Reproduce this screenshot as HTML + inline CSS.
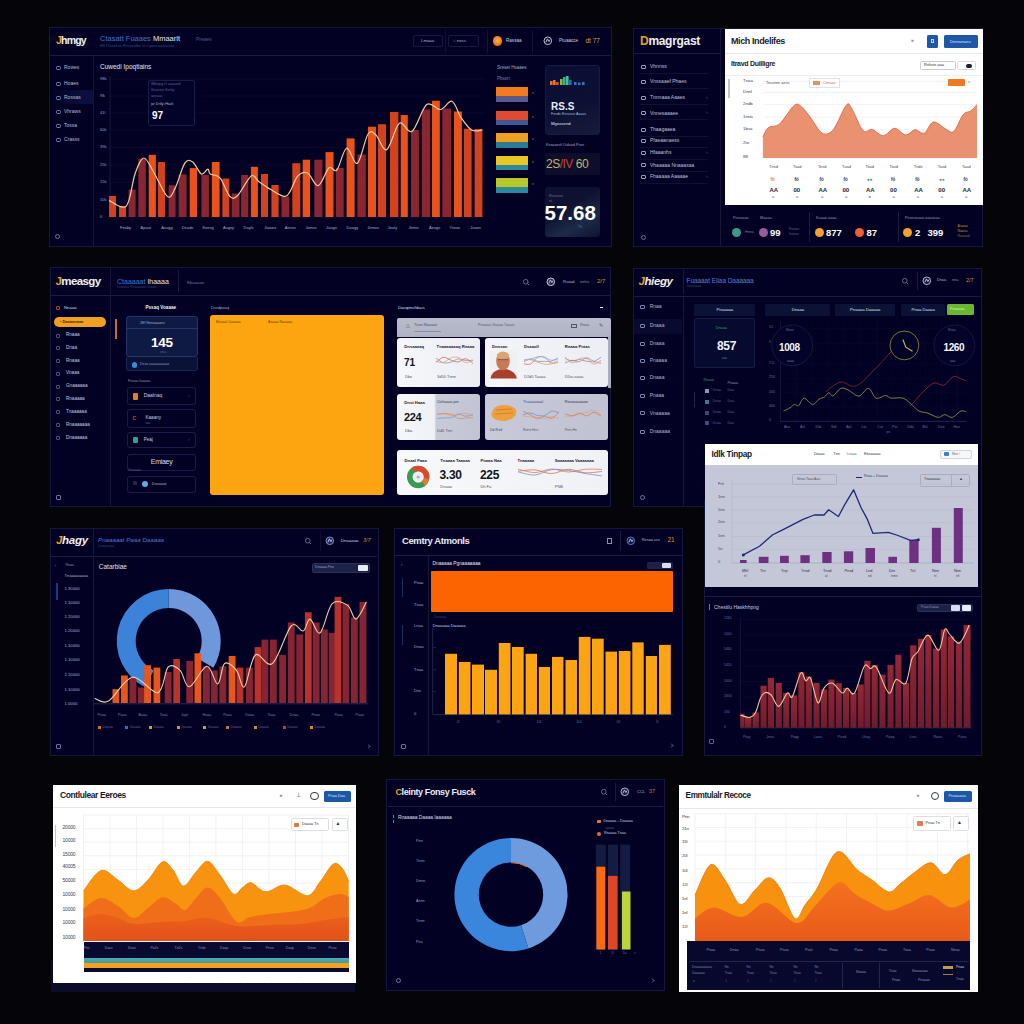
<!DOCTYPE html>
<html><head><meta charset="utf-8"><title>Dashboards</title><style>
*{margin:0;padding:0;box-sizing:border-box;}
html,body{width:1024px;height:1024px;overflow:hidden;background:#040409;}
body{position:relative;font-family:"Liberation Sans",sans-serif;}
body>div,.a{position:absolute;}
.t{position:absolute;white-space:nowrap;line-height:1;}
</style></head>
<body>
<div style="left:49px;top:27px;width:563px;height:220px;background:#020124;border:1px solid #15173e;"></div><div style="left:50px;top:55px;width:561px;height:1px;background:#1a1c40;"></div><div style="left:93px;top:56px;width:1px;height:190px;background:#141634;"></div><div class="t" style="left:56px;top:34.5px;font-size:10.5px;color:#f0f0f5;font-weight:bold;letter-spacing:-0.8px;"><span style="color:#e8a020">J</span>hmgy</div><div class="t" style="left:100px;top:35.3px;font-size:7.5px;color:#fff;font-weight:normal;"><span style="color:#3a78c8">Ctasatt Fuaaes</span> <span style="color:#e6e6ee">Mmaarlt</span></div><div class="t" style="left:100px;top:44px;font-size:4.2px;color:#2a4a80;font-weight:normal;">Rfl Paaetsa  Reraedbe In  Lyaanoaeaane</div><div class="t" style="left:196px;top:37px;font-size:5px;color:#4a5a90;font-weight:normal;">Preaes</div><div style="left:413px;top:35px;width:30px;height:12px;border:1px solid #161a42;border-radius:2px;"></div><div class="t" style="left:421px;top:39.2px;font-size:4.3px;color:#b0b4d0;font-weight:normal;">Lmaaa</div><div style="left:448px;top:35px;width:31px;height:12px;border:1px solid #161a42;border-radius:2px;"></div><div class="t" style="left:453px;top:39.2px;font-size:4.3px;color:#b0b4d0;font-weight:normal;">&#9675;  ness</div><div style="left:492.5px;top:36.2px;width:9.5px;height:9.5px;background:radial-gradient(circle at 50% 45%,#ffb060,#f07818 60%,#e06010);border-radius:50%;"></div><svg class="a" style="left:542.8000000000001px;top:36.0px" width="9.6" height="9.6" viewBox="-4.8 -4.8 9.6 9.6"><circle cx="0" cy="0" r="3.8" fill="#0a0e34" stroke="#d0d4e8" stroke-width="0.9"/><path d="M-1.9,1.52 L-0.38,-1.9 L1.14,0.76 L2.09,-1.14" fill="none" stroke="#e0e4f4" stroke-width="0.8"/></svg><div class="t" style="left:506px;top:39px;font-size:4.6px;color:#c8cce0;font-weight:normal;">Rassaa</div><div class="t" style="left:559px;top:39px;font-size:4.6px;color:#c8cce0;font-weight:normal;">Ptuaacce</div><div class="t" style="left:585.5px;top:37.8px;font-size:6.5px;color:#d8a040;font-weight:normal;">dt 77</div><div style="left:50px;top:90px;width:43px;height:14px;background:linear-gradient(90deg,rgba(10,12,52,0) 0%,#0a0e3a 70%,#0c1040 100%);"></div><div style="left:56px;top:65.8px;width:4.5px;height:4.5px;border:0.8px solid #8088b8;border-radius:1.5px;"></div><div class="t" style="left:64px;top:65.2px;font-size:5px;color:#b4bad8;font-weight:normal;">Rowes</div><div style="left:56px;top:81.8px;width:4.5px;height:4.5px;border:0.8px solid #8088b8;border-radius:1.5px;"></div><div class="t" style="left:64px;top:81.2px;font-size:5px;color:#b4bad8;font-weight:normal;">Hoaes</div><div style="left:56px;top:95.8px;width:4.5px;height:4.5px;border:0.8px solid #8088b8;border-radius:1.5px;"></div><div class="t" style="left:64px;top:95.2px;font-size:5px;color:#b4bad8;font-weight:normal;">Rossas</div><div style="left:56px;top:109.8px;width:4.5px;height:4.5px;border:0.8px solid #8088b8;border-radius:1.5px;"></div><div class="t" style="left:64px;top:109.2px;font-size:5px;color:#b4bad8;font-weight:normal;">Vhraws</div><div style="left:56px;top:123.8px;width:4.5px;height:4.5px;border:0.8px solid #8088b8;border-radius:1.5px;"></div><div class="t" style="left:64px;top:123.2px;font-size:5px;color:#b4bad8;font-weight:normal;">Tossa</div><div style="left:56px;top:137.8px;width:4.5px;height:4.5px;border:0.8px solid #8088b8;border-radius:1.5px;"></div><div class="t" style="left:64px;top:137.2px;font-size:5px;color:#b4bad8;font-weight:normal;">Crasss</div><div style="left:55px;top:234px;width:5px;height:5px;border:1px solid #6a70a0;border-radius:50%;"></div><div class="t" style="left:100px;top:63.5px;font-size:6.5px;color:#e8e8f0;font-weight:normal;">Cuwedi Ipoqtiains</div><div class="t" style="left:100px;top:76.5px;font-size:4px;color:#9aa0c0;font-weight:normal;">98k</div><div class="t" style="left:100px;top:93.5px;font-size:4px;color:#9aa0c0;font-weight:normal;">9lk</div><div class="t" style="left:100px;top:110.5px;font-size:4px;color:#9aa0c0;font-weight:normal;">41l</div><div class="t" style="left:100px;top:127.5px;font-size:4px;color:#9aa0c0;font-weight:normal;">60k</div><div class="t" style="left:100px;top:145.0px;font-size:4px;color:#9aa0c0;font-weight:normal;">39k</div><div class="t" style="left:100px;top:162.5px;font-size:4px;color:#9aa0c0;font-weight:normal;">25k</div><div class="t" style="left:100px;top:180.2px;font-size:4px;color:#9aa0c0;font-weight:normal;">15k</div><div class="t" style="left:100px;top:197.5px;font-size:4px;color:#9aa0c0;font-weight:normal;">10k</div><div class="t" style="left:100px;top:214.5px;font-size:4px;color:#9aa0c0;font-weight:normal;">0</div><svg class="a" style="left:95px;top:70px" width="395" height="150" viewBox="95 70 395 150"><line x1="110" y1="79" x2="484" y2="79" stroke="#0c0d30" stroke-width="0.8"/><line x1="110" y1="96" x2="484" y2="96" stroke="#0c0d30" stroke-width="0.8"/><line x1="110" y1="113" x2="484" y2="113" stroke="#0c0d30" stroke-width="0.8"/><line x1="110" y1="130" x2="484" y2="130" stroke="#0c0d30" stroke-width="0.8"/><line x1="110" y1="147.5" x2="484" y2="147.5" stroke="#0c0d30" stroke-width="0.8"/><line x1="110" y1="165" x2="484" y2="165" stroke="#0c0d30" stroke-width="0.8"/><line x1="110" y1="182.7" x2="484" y2="182.7" stroke="#0c0d30" stroke-width="0.8"/><line x1="110" y1="200" x2="484" y2="200" stroke="#0c0d30" stroke-width="0.8"/><line x1="110" y1="217" x2="484" y2="217" stroke="#0c0d30" stroke-width="0.8"/><line x1="110" y1="76" x2="110" y2="217" stroke="#1c1e48" stroke-width="0.8"/><rect x="109" y="196" width="7" height="21" fill="#d2421e"/><rect x="119" y="206" width="7" height="11" fill="#d2421e"/><rect x="128.6" y="189.6" width="7" height="27.400000000000006" fill="#8a2630"/><rect x="138.4" y="158.75" width="7.4" height="58.25" fill="#8a2630"/><rect x="148.7" y="154.8" width="7.2" height="62.19999999999999" fill="#ea521c"/><rect x="158" y="162" width="7" height="55" fill="#d2421e"/><rect x="168.6" y="185.3" width="7" height="31.69999999999999" fill="#8a2630"/><rect x="178.6" y="174.4" width="8" height="42.599999999999994" fill="#8a2630"/><rect x="189.7" y="168.1" width="7.4" height="48.900000000000006" fill="#ea521c"/><rect x="201.4" y="175" width="7.5" height="42" fill="#8a2630"/><rect x="211.8" y="162" width="7.8" height="55" fill="#ea521c"/><rect x="222.3" y="178.5" width="7" height="38.5" fill="#d2421e"/><rect x="231.7" y="193.5" width="7.8" height="23.5" fill="#8a2630"/><rect x="241.1" y="175" width="7.2" height="42" fill="#8a2630"/><rect x="250.9" y="166.8" width="7" height="50.19999999999999" fill="#ea521c"/><rect x="261" y="174" width="7" height="43" fill="#d2421e"/><rect x="271.4" y="185" width="7.2" height="32" fill="#d2421e"/><rect x="281.5" y="196.4" width="7.8" height="20.599999999999994" fill="#8a2630"/><rect x="292.3" y="163.2" width="8" height="53.80000000000001" fill="#d2421e"/><rect x="302.7" y="159.7" width="7.4" height="57.30000000000001" fill="#ea521c"/><rect x="314.4" y="159.7" width="8" height="57.30000000000001" fill="#8a2630"/><rect x="325.5" y="152.1" width="8" height="64.9" fill="#ea521c"/><rect x="335.9" y="168" width="7.8" height="49" fill="#8a2630"/><rect x="346.6" y="138.4" width="8" height="78.6" fill="#ea521c"/><rect x="357.4" y="154.5" width="8.4" height="62.5" fill="#8a2630"/><rect x="368" y="126.7" width="8" height="90.3" fill="#ea521c"/><rect x="377.9" y="124.2" width="8.2" height="92.8" fill="#d2421e"/><rect x="390" y="112" width="8.4" height="105" fill="#d2421e"/><rect x="400.7" y="115" width="7.1" height="102" fill="#ea521c"/><rect x="411" y="130" width="7.9" height="87" fill="#8a2630"/><rect x="421.8" y="109.5" width="8.4" height="107.5" fill="#8a2630"/><rect x="432" y="100.7" width="7.8" height="116.3" fill="#ea521c"/><rect x="442.3" y="108.6" width="8.8" height="108.4" fill="#8a2630"/><rect x="454" y="111.5" width="7.9" height="105.5" fill="#ea521c"/><rect x="463.8" y="128.7" width="7.8" height="88.30000000000001" fill="#d2421e"/><rect x="474.6" y="129" width="7.8" height="88" fill="#d2421e"/><path d="M109.0,200.4 C111.9,201.4 121.9,210.6 126.2,206.2 C130.6,201.8 132.1,182.0 135.0,174.0 C137.9,166.0 140.7,158.3 143.8,158.0 C146.9,157.7 149.7,165.6 153.6,172.0 C157.5,178.4 163.7,193.6 167.3,196.4 C170.9,199.2 172.1,194.1 175.0,188.6 C177.9,183.1 181.9,167.6 184.8,163.2 C187.8,158.8 189.9,160.1 192.7,161.9 C195.5,163.7 198.9,172.8 201.4,174.0 C203.9,175.2 206.4,169.1 207.9,169.1 C209.4,169.1 208.2,172.5 210.2,174.0 C212.2,175.5 216.7,174.2 220.0,177.9 C223.3,181.6 226.9,193.5 229.8,196.4 C232.7,199.3 234.0,198.9 237.6,195.5 C241.2,192.1 247.7,178.2 251.2,175.9 C254.8,173.6 255.7,179.5 259.0,181.8 C262.3,184.1 266.6,187.2 270.8,189.6 C275.1,192.0 281.3,196.1 284.5,196.4 C287.7,196.7 287.8,195.0 290.0,191.6 C292.2,188.2 294.9,179.1 297.8,176.0 C300.7,172.9 304.2,171.4 307.6,173.0 C311.0,174.6 314.7,186.6 318.3,185.7 C321.9,184.8 325.9,170.3 329.0,167.7 C332.1,165.1 334.0,173.2 336.9,170.0 C339.8,166.8 343.2,149.3 346.6,148.2 C350.0,147.1 353.8,165.6 357.4,163.2 C361.0,160.8 364.9,138.7 368.0,134.0 C371.1,129.3 372.9,132.4 376.0,135.0 C379.1,137.6 382.8,151.6 386.7,149.6 C390.6,147.6 395.2,126.2 399.4,123.2 C403.6,120.2 407.4,134.5 412.0,131.4 C416.6,128.3 422.0,108.2 426.7,104.6 C431.4,100.9 436.2,110.0 440.4,109.5 C444.6,109.0 448.6,100.0 452.0,101.3 C455.4,102.6 457.6,112.5 460.9,117.3 C464.2,122.1 468.0,127.9 471.6,130.0 C475.2,132.1 480.6,130.0 482.4,130.0" fill="none" stroke="#f2cc9c" stroke-width="1.2"/></svg><div class="t" style="left:120.0px;top:226.3px;font-size:4px;color:#a8aec8;font-weight:normal;">Feaby</div><div class="t" style="left:140.6px;top:226.3px;font-size:4px;color:#a8aec8;font-weight:normal;">Apaat</div><div class="t" style="left:161.2px;top:226.3px;font-size:4px;color:#a8aec8;font-weight:normal;">Auugg</div><div class="t" style="left:181.8px;top:226.3px;font-size:4px;color:#a8aec8;font-weight:normal;">Deads</div><div class="t" style="left:202.4px;top:226.3px;font-size:4px;color:#a8aec8;font-weight:normal;">Keesg</div><div class="t" style="left:223.0px;top:226.3px;font-size:4px;color:#a8aec8;font-weight:normal;">Augsy</div><div class="t" style="left:243.60000000000002px;top:226.3px;font-size:4px;color:#a8aec8;font-weight:normal;">Dayls</div><div class="t" style="left:264.20000000000005px;top:226.3px;font-size:4px;color:#a8aec8;font-weight:normal;">Jwaws</div><div class="t" style="left:284.8px;top:226.3px;font-size:4px;color:#a8aec8;font-weight:normal;">Aesss</div><div class="t" style="left:305.4px;top:226.3px;font-size:4px;color:#a8aec8;font-weight:normal;">Jwnss</div><div class="t" style="left:326.0px;top:226.3px;font-size:4px;color:#a8aec8;font-weight:normal;">Juogs</div><div class="t" style="left:346.6px;top:226.3px;font-size:4px;color:#a8aec8;font-weight:normal;">Daagy</div><div class="t" style="left:367.20000000000005px;top:226.3px;font-size:4px;color:#a8aec8;font-weight:normal;">Jemas</div><div class="t" style="left:387.8px;top:226.3px;font-size:4px;color:#a8aec8;font-weight:normal;">Jealy</div><div class="t" style="left:408.40000000000003px;top:226.3px;font-size:4px;color:#a8aec8;font-weight:normal;">Jemis</div><div class="t" style="left:429.0px;top:226.3px;font-size:4px;color:#a8aec8;font-weight:normal;">Aeugs</div><div class="t" style="left:449.6px;top:226.3px;font-size:4px;color:#a8aec8;font-weight:normal;">Yiwas</div><div class="t" style="left:470.20000000000005px;top:226.3px;font-size:4px;color:#a8aec8;font-weight:normal;">Juaes</div><div style="left:147.5px;top:79.5px;width:47px;height:46.5px;border:1px solid #1a1d46;border-radius:2px;background:#03032a;"></div><div class="t" style="left:151px;top:83px;font-size:3.8px;color:#5a6090;font-weight:normal;">Wbspg cf aaaasd</div><div class="t" style="left:151px;top:89px;font-size:3.8px;color:#5a6090;font-weight:normal;">Ithanws Ihnhy</div><div class="t" style="left:151px;top:95px;font-size:3.8px;color:#5a6090;font-weight:normal;">awaaa</div><div class="t" style="left:151px;top:103px;font-size:3.8px;color:#b0b4d0;font-weight:normal;">jw Drtlyi Hael</div><div class="t" style="left:152px;top:110.5px;font-size:10px;color:#ffffff;font-weight:bold;">97</div><div class="t" style="left:497px;top:66px;font-size:4.5px;color:#a0a6c8;font-weight:normal;">Sreset Hsaaes</div><div class="t" style="left:497px;top:77px;font-size:4.5px;color:#7a80a8;font-weight:normal;">Pbssrt</div><div style="left:496px;top:87px;width:32px;height:9px;background:#f47a1c;"></div><div style="left:496px;top:96px;width:32px;height:5.5px;background:#5a5a8a;"></div><div style="left:532px;top:92px;width:2px;height:2px;background:#3a3e68;border-radius:50%;"></div><div style="left:496px;top:110.5px;width:32px;height:9px;background:#e04a30;"></div><div style="left:496px;top:119.5px;width:32px;height:5.5px;background:#3a5a9a;"></div><div style="left:532px;top:115.5px;width:2px;height:2px;background:#3a3e68;border-radius:50%;"></div><div style="left:496px;top:133px;width:32px;height:9px;background:#f0a020;"></div><div style="left:496px;top:142px;width:32px;height:5.5px;background:#2a7a9a;"></div><div style="left:532px;top:138px;width:2px;height:2px;background:#3a3e68;border-radius:50%;"></div><div style="left:496px;top:155.5px;width:32px;height:9px;background:#e8c820;"></div><div style="left:496px;top:164.5px;width:32px;height:5.5px;background:#2a8aa0;"></div><div style="left:532px;top:160.5px;width:2px;height:2px;background:#3a3e68;border-radius:50%;"></div><div style="left:496px;top:178px;width:32px;height:9px;background:#b8c828;"></div><div style="left:496px;top:187px;width:32px;height:5.5px;background:#2a8aa0;"></div><div style="left:532px;top:183px;width:2px;height:2px;background:#3a3e68;border-radius:50%;"></div><div style="left:545px;top:65px;width:55px;height:70px;background:linear-gradient(160deg,#0a0e32,#0c1034 60%,#181c3a);border:1px solid #161a46;border-radius:3px;"></div><svg class="a" style="left:545px;top:65px" width="55" height="70" viewBox="545 65 55 70"><rect x="550" y="81" width="2.6" height="4" fill="#f07020"/><rect x="553" y="80" width="2.6" height="5" fill="#f07020"/><rect x="556" y="82" width="2.6" height="3" fill="#e05020"/><rect x="560" y="79" width="2.6" height="6" fill="#7ac040"/><rect x="563" y="77" width="2.6" height="8" fill="#40b080"/><rect x="566" y="76" width="2.6" height="9" fill="#40c0a0"/><rect x="569" y="80" width="2.6" height="5" fill="#2a6ab0"/><rect x="574" y="82" width="2.6" height="3" fill="#3a70c0"/><rect x="578" y="82.5" width="2.6" height="2.5" fill="#3a70c0"/><rect x="582" y="82" width="2.6" height="3" fill="#3a70c0"/></svg><div class="t" style="left:551px;top:101.5px;font-size:10px;color:#e8ecf8;font-weight:bold;">RS.S</div><div style="left:487px;top:30px;width:0.8px;height:23px;background:#111338;"></div><div style="left:532px;top:30px;width:0.8px;height:23px;background:#111338;"></div><div style="left:444.5px;top:30px;width:0.8px;height:23px;background:#0e1034;"></div><div class="t" style="left:551px;top:113px;font-size:3.6px;color:#b0b6d8;font-weight:normal;">Fesdn Eerasse Aaaas</div><div class="t" style="left:551px;top:122px;font-size:4.2px;color:#e0e4f4;font-weight:normal;">Mgoosend</div><div class="t" style="left:546px;top:144px;font-size:3.8px;color:#a0a6c8;font-weight:normal;">Kssaaesf  Oulaad  Pran</div><div style="left:545px;top:153px;width:55px;height:22px;background:#0c0e2a;border-radius:2px;"></div><div class="t" style="left:546px;top:158px;font-size:12px;color:#c8b070;font-weight:normal;letter-spacing:-0.5px;"><span style="color:#c8b070">2S</span><span style="color:#c04838">/IV</span> <span style="color:#c8b070">60</span></div><div style="left:545px;top:187px;width:55px;height:50px;background:linear-gradient(150deg,#0e1230 40%,#1c2a48 70%,#0e1430);border-radius:3px;"></div><div class="t" style="left:549px;top:195px;font-size:3.6px;color:#6a70a0;font-weight:normal;">Rnveass</div><div class="t" style="left:549px;top:200px;font-size:3.6px;color:#6a70a0;font-weight:normal;">st.</div><div class="t" style="left:544.5px;top:202.5px;font-size:20.5px;color:#ffffff;font-weight:bold;letter-spacing:0px;">57.68</div><div class="t" style="left:578px;top:226px;font-size:3.6px;color:#6a70a0;font-weight:normal;">Th</div><div style="left:633px;top:28px;width:350px;height:219px;background:#020124;border:1px solid #15173e;"></div><div style="left:720px;top:29px;width:1px;height:217px;background:#151738;"></div><div style="left:634px;top:53px;width:86px;height:1px;background:#171a3e;"></div><div class="t" style="left:640px;top:34.5px;font-size:12px;color:#f0f0f5;font-weight:bold;letter-spacing:-0.3px;"><span style="color:#e8a020">D</span>magrgast</div><div style="left:641px;top:64.9px;width:4.5px;height:4px;border:0.9px solid #9aa0c4;border-radius:1px;"></div><div class="t" style="left:650px;top:64.2px;font-size:5px;color:#bcc2dc;font-weight:normal;">Vhnnss</div><div style="left:640px;top:72.9px;width:68px;height:0.6px;background:#101234;"></div><div style="left:641px;top:80.1px;width:4.5px;height:4px;border:0.9px solid #9aa0c4;border-radius:1px;"></div><div class="t" style="left:650px;top:79.39999999999999px;font-size:5px;color:#bcc2dc;font-weight:normal;">Vnssaaef Phaes</div><div style="left:640px;top:88.1px;width:68px;height:0.6px;background:#101234;"></div><div style="left:641px;top:95.7px;width:4.5px;height:4px;border:0.9px solid #9aa0c4;border-radius:1px;"></div><div class="t" style="left:650px;top:95.0px;font-size:5px;color:#bcc2dc;font-weight:normal;">Tnnnaaa Aaaes</div><div class="t" style="left:706px;top:94.7px;font-size:5px;color:#5a6090;font-weight:normal;">&#8250;</div><div style="left:640px;top:103.7px;width:68px;height:0.6px;background:#101234;"></div><div style="left:641px;top:111.3px;width:4.5px;height:4px;border:0.9px solid #9aa0c4;border-radius:1px;"></div><div class="t" style="left:650px;top:110.6px;font-size:5px;color:#bcc2dc;font-weight:normal;">Vnnesaaaee</div><div class="t" style="left:706px;top:110.3px;font-size:5px;color:#5a6090;font-weight:normal;">&#8250;</div><div style="left:640px;top:119.3px;width:68px;height:0.6px;background:#101234;"></div><div style="left:641px;top:127.5px;width:4.5px;height:4px;border:0.9px solid #9aa0c4;border-radius:1px;"></div><div class="t" style="left:650px;top:126.8px;font-size:5px;color:#bcc2dc;font-weight:normal;">Thaagaaea</div><div style="left:640px;top:135.5px;width:68px;height:0.6px;background:#101234;"></div><div style="left:641px;top:139.1px;width:4.5px;height:4px;border:0.9px solid #9aa0c4;border-radius:1px;"></div><div class="t" style="left:650px;top:138.4px;font-size:5px;color:#bcc2dc;font-weight:normal;">Pfaeaanaess</div><div style="left:640px;top:147.1px;width:68px;height:0.6px;background:#101234;"></div><div style="left:641px;top:151.0px;width:4.5px;height:4px;border:0.9px solid #9aa0c4;border-radius:1px;"></div><div class="t" style="left:650px;top:150.3px;font-size:5px;color:#bcc2dc;font-weight:normal;">Hfaaanhs</div><div class="t" style="left:706px;top:150.0px;font-size:5px;color:#5a6090;font-weight:normal;">&#8250;</div><div style="left:640px;top:159.0px;width:68px;height:0.6px;background:#101234;"></div><div style="left:641px;top:163.2px;width:4.5px;height:4px;border:0.9px solid #9aa0c4;border-radius:1px;"></div><div class="t" style="left:650px;top:162.5px;font-size:5px;color:#bcc2dc;font-weight:normal;">Vhaaaaa Nnaaasaa</div><div style="left:640px;top:171.2px;width:68px;height:0.6px;background:#101234;"></div><div style="left:641px;top:175.1px;width:4.5px;height:4px;border:0.9px solid #9aa0c4;border-radius:1px;"></div><div class="t" style="left:650px;top:174.4px;font-size:5px;color:#bcc2dc;font-weight:normal;">Fhaaaaa Aaaaae</div><div class="t" style="left:706px;top:174.1px;font-size:5px;color:#5a6090;font-weight:normal;">&#8250;</div><div style="left:640px;top:183.1px;width:68px;height:0.6px;background:#101234;"></div><div style="left:641px;top:235px;width:5px;height:5px;border:1px solid #6a70a0;border-radius:50%;"></div><div style="left:725px;top:29px;width:258px;height:176px;background:#ffffff;"></div><div style="left:725px;top:53px;width:258px;height:1px;background:#e4e6ee;"></div><div class="t" style="left:731px;top:37.3px;font-size:9px;color:#1a1c2a;font-weight:bold;letter-spacing:-0.4px;">Mich Indelifes</div><div class="t" style="left:911px;top:38px;font-size:5px;color:#303040;font-weight:normal;">&#187;</div><div style="left:927px;top:35px;width:11px;height:13px;background:#1e56a8;border-radius:1.5px;"></div><div style="left:931px;top:39px;width:3px;height:4px;border:1px solid #c8d8f0;"></div><div style="left:944px;top:35px;width:34px;height:13px;background:#1e56a8;border-radius:1.5px;"></div><div class="t" style="left:950px;top:39.5px;font-size:4.3px;color:#d8e4f8;font-weight:normal;">Dmnanaes</div><div class="t" style="left:731px;top:60px;font-size:7px;color:#1a1c2a;font-weight:bold;letter-spacing:-0.3px;">Itravd Duilligre</div><div style="left:920px;top:61px;width:36px;height:9px;border:1px solid #c8ccd8;border-radius:1.5px;"></div><div class="t" style="left:924px;top:63px;font-size:4px;color:#303448;font-weight:normal;">Rnlsse  aaa</div><div style="left:957px;top:61px;width:19px;height:9px;border:1px solid #d8dae4;border-radius:1.5px;"></div><div style="left:966px;top:63.5px;width:6px;height:4px;background:#1a1c30;border-radius:2px;"></div><div style="left:725px;top:75px;width:258px;height:1px;background:#eceef2;"></div><div style="left:728px;top:79px;width:1.5px;height:19px;background:#c0c4d0;"></div><div class="t" style="left:743px;top:78.8px;font-size:4.4px;color:#3a3e52;font-weight:normal;">Tnaa</div><div class="t" style="left:743px;top:90.0px;font-size:4.4px;color:#3a3e52;font-weight:normal;">Dnnl</div><div class="t" style="left:743px;top:102.19999999999999px;font-size:4.4px;color:#3a3e52;font-weight:normal;">2ndb</div><div class="t" style="left:743px;top:114.8px;font-size:4.4px;color:#3a3e52;font-weight:normal;">1nna</div><div class="t" style="left:743px;top:127.4px;font-size:4.4px;color:#3a3e52;font-weight:normal;">1bsa</div><div class="t" style="left:743px;top:141.2px;font-size:4.4px;color:#3a3e52;font-weight:normal;">2to</div><div class="t" style="left:743px;top:154.9px;font-size:4.4px;color:#3a3e52;font-weight:normal;">88</div><svg class="a" style="left:725px;top:75px" width="258" height="90" viewBox="725 75 258 90"><line x1="763" y1="81.2" x2="977" y2="81.2" stroke="#eeeff4" stroke-width="0.8"/><line x1="763" y1="92.4" x2="977" y2="92.4" stroke="#eeeff4" stroke-width="0.8"/><line x1="763" y1="104.6" x2="977" y2="104.6" stroke="#eeeff4" stroke-width="0.8"/><line x1="763" y1="117.2" x2="977" y2="117.2" stroke="#eeeff4" stroke-width="0.8"/><line x1="763" y1="129.8" x2="977" y2="129.8" stroke="#eeeff4" stroke-width="0.8"/><line x1="763" y1="143.6" x2="977" y2="143.6" stroke="#eeeff4" stroke-width="0.8"/><line x1="763" y1="157.3" x2="977" y2="157.3" stroke="#eeeff4" stroke-width="0.8"/><path d="M762.9,136.9 C763.8,135.3 765.6,129.8 768.4,127.6 C771.2,125.4 775.3,127.6 779.6,123.9 C783.9,120.2 790.7,108.1 794.4,105.3 C798.1,102.5 799.0,105.0 801.8,107.2 C804.6,109.4 807.6,114.0 811.0,118.3 C814.4,122.6 818.5,131.3 822.2,133.2 C825.9,135.1 829.4,134.2 833.4,129.5 C837.4,124.8 843.2,108.7 846.3,105.3 C849.4,101.9 849.1,104.8 851.9,109.0 C854.7,113.2 859.6,127.2 863.0,130.6 C866.4,134.0 868.9,128.6 872.3,129.5 C875.7,130.4 879.7,136.0 883.4,135.8 C887.1,135.6 890.9,128.4 894.6,128.3 C898.3,128.2 902.3,134.8 905.7,135.0 C909.1,135.2 911.9,130.1 915.0,129.8 C918.1,129.5 921.2,134.5 924.3,133.2 C927.4,131.9 929.8,122.6 933.5,122.0 C937.2,121.4 943.1,128.0 946.5,129.5 C949.9,131.1 951.2,133.8 954.0,131.3 C956.8,128.8 960.4,118.0 963.2,114.6 C966.0,111.2 968.4,112.7 970.7,111.0 C973.0,109.3 976.0,105.7 977.0,104.6 L977,158 L762.9,158 Z" fill="#ea9270"/><path d="M762.9,136.9 C763.8,135.3 765.6,129.8 768.4,127.6 C771.2,125.4 775.3,127.6 779.6,123.9 C783.9,120.2 790.7,108.1 794.4,105.3 C798.1,102.5 799.0,105.0 801.8,107.2 C804.6,109.4 807.6,114.0 811.0,118.3 C814.4,122.6 818.5,131.3 822.2,133.2 C825.9,135.1 829.4,134.2 833.4,129.5 C837.4,124.8 843.2,108.7 846.3,105.3 C849.4,101.9 849.1,104.8 851.9,109.0 C854.7,113.2 859.6,127.2 863.0,130.6 C866.4,134.0 868.9,128.6 872.3,129.5 C875.7,130.4 879.7,136.0 883.4,135.8 C887.1,135.6 890.9,128.4 894.6,128.3 C898.3,128.2 902.3,134.8 905.7,135.0 C909.1,135.2 911.9,130.1 915.0,129.8 C918.1,129.5 921.2,134.5 924.3,133.2 C927.4,131.9 929.8,122.6 933.5,122.0 C937.2,121.4 943.1,128.0 946.5,129.5 C949.9,131.1 951.2,133.8 954.0,131.3 C956.8,128.8 960.4,118.0 963.2,114.6 C966.0,111.2 968.4,112.7 970.7,111.0 C973.0,109.3 976.0,105.7 977.0,104.6" fill="none" stroke="#d8704c" stroke-width="1"/></svg><div class="t" style="left:766px;top:80.5px;font-size:4px;color:#4a4e60;font-weight:normal;">Teasme  aess</div><div style="left:808.5px;top:77.5px;width:31px;height:10px;border:1px solid #e0e2ea;background:#fff;"></div><div style="left:813px;top:80.5px;width:7px;height:4px;background:#f08a60;"></div><div class="t" style="left:823px;top:80.5px;font-size:4px;color:#c06a50;font-weight:normal;">Cmsas</div><div style="left:947.6px;top:78.6px;width:17.4px;height:7.4px;background:#f07822;border-radius:1px;"></div><div class="t" style="left:968px;top:79px;font-size:6px;color:#505468;font-weight:normal;">&#9643;</div><div class="t" style="left:769px;top:165px;font-size:4px;color:#404458;font-weight:normal;">Tnsd</div><div class="t" style="left:793px;top:165px;font-size:4px;color:#404458;font-weight:normal;">Tsad</div><div class="t" style="left:818px;top:165px;font-size:4px;color:#404458;font-weight:normal;">Tesd</div><div class="t" style="left:842px;top:165px;font-size:4px;color:#404458;font-weight:normal;">Tuad</div><div class="t" style="left:865.5px;top:165px;font-size:4px;color:#404458;font-weight:normal;">Tsad</div><div class="t" style="left:889.6px;top:165px;font-size:4px;color:#404458;font-weight:normal;">Tasd</div><div class="t" style="left:913.7px;top:165px;font-size:4px;color:#404458;font-weight:normal;">Tnds</div><div class="t" style="left:937.8px;top:165px;font-size:4px;color:#404458;font-weight:normal;">Tasd</div><div class="t" style="left:962px;top:165px;font-size:4px;color:#404458;font-weight:normal;">Taad</div><div class="t" style="left:770.5px;top:177.5px;font-size:4.5px;color:#e87a50;font-weight:bold;">f&#246;</div><div class="t" style="left:769.5px;top:187px;font-size:6px;color:#22243a;font-weight:bold;">AA</div><div class="t" style="left:772px;top:195px;font-size:4px;color:#606478;font-weight:normal;">a</div><div class="t" style="left:794.5px;top:177.5px;font-size:4.5px;color:#202a50;font-weight:bold;">f&#246;</div><div class="t" style="left:793.5px;top:187px;font-size:6px;color:#22243a;font-weight:bold;">00</div><div class="t" style="left:796px;top:195px;font-size:4px;color:#606478;font-weight:normal;">a</div><div class="t" style="left:819.5px;top:177.5px;font-size:4.5px;color:#303050;font-weight:bold;">f&#246;</div><div class="t" style="left:818.5px;top:187px;font-size:6px;color:#22243a;font-weight:bold;">AA</div><div class="t" style="left:821px;top:195px;font-size:4px;color:#606478;font-weight:normal;">a</div><div class="t" style="left:843.5px;top:177.5px;font-size:4.5px;color:#303050;font-weight:bold;">f&#246;</div><div class="t" style="left:842.5px;top:187px;font-size:6px;color:#22243a;font-weight:bold;">00</div><div class="t" style="left:845px;top:195px;font-size:4px;color:#606478;font-weight:normal;">a</div><div class="t" style="left:867.0px;top:177.5px;font-size:4.5px;color:#2a9a5a;font-weight:bold;">&#9679;&#9679;</div><div class="t" style="left:866.0px;top:187px;font-size:6px;color:#22243a;font-weight:bold;">AA</div><div class="t" style="left:868.5px;top:195px;font-size:4px;color:#2a7ad0;font-weight:normal;">&#9679;</div><div class="t" style="left:891.1px;top:177.5px;font-size:4.5px;color:#303050;font-weight:bold;">f&#246;</div><div class="t" style="left:890.1px;top:187px;font-size:6px;color:#22243a;font-weight:bold;">00</div><div class="t" style="left:892.6px;top:195px;font-size:4px;color:#606478;font-weight:normal;">a</div><div class="t" style="left:915.2px;top:177.5px;font-size:4.5px;color:#303050;font-weight:bold;">f&#246;</div><div class="t" style="left:914.2px;top:187px;font-size:6px;color:#22243a;font-weight:bold;">AA</div><div class="t" style="left:916.7px;top:195px;font-size:4px;color:#606478;font-weight:normal;">a</div><div class="t" style="left:939.3px;top:177.5px;font-size:4.5px;color:#3aa07a;font-weight:bold;">&#9679;&#9679;</div><div class="t" style="left:938.3px;top:187px;font-size:6px;color:#22243a;font-weight:bold;">00</div><div class="t" style="left:940.8px;top:195px;font-size:4px;color:#606478;font-weight:normal;">a</div><div class="t" style="left:963.5px;top:177.5px;font-size:4.5px;color:#303050;font-weight:bold;">f&#246;</div><div class="t" style="left:962.5px;top:187px;font-size:6px;color:#22243a;font-weight:bold;">AA</div><div class="t" style="left:965px;top:195px;font-size:4px;color:#606478;font-weight:normal;">a</div><div class="t" style="left:733px;top:216.8px;font-size:3.8px;color:#9096c0;font-weight:normal;">Pnissaas</div><div class="t" style="left:760px;top:216.8px;font-size:3.8px;color:#9096c0;font-weight:normal;">Maaaa</div><div class="t" style="left:816px;top:216.8px;font-size:3.8px;color:#9096c0;font-weight:normal;">Kaaaa aaaa</div><div class="t" style="left:905px;top:216.8px;font-size:3.8px;color:#9096c0;font-weight:normal;">Pnseasaao aaaasaa</div><div style="left:809px;top:212px;width:0.8px;height:30px;background:#1a1c40;"></div><div style="left:898px;top:212px;width:0.8px;height:30px;background:#1a1c40;"></div><div style="left:731.5px;top:227.7px;width:9px;height:9px;background:#3a9a8a;border-radius:50%;"></div><div class="t" style="left:745px;top:230.5px;font-size:3.6px;color:#7a80a8;font-weight:normal;">Hnna</div><div style="left:759px;top:227.7px;width:9px;height:9px;background:#9a5aa0;border-radius:50%;"></div><div class="t" style="left:770px;top:228px;font-size:9.5px;color:#ffffff;font-weight:bold;">99</div><div class="t" style="left:789px;top:228px;font-size:3.4px;color:#5a6090;font-weight:normal;">Fianas</div><div class="t" style="left:789px;top:233px;font-size:3.4px;color:#5a6090;font-weight:normal;">haisss</div><div style="left:815px;top:227.7px;width:9px;height:9px;background:#f5a030;border-radius:50%;"></div><div class="t" style="left:826px;top:228px;font-size:9.5px;color:#ffffff;font-weight:bold;">877</div><div style="left:855px;top:227.7px;width:9px;height:9px;background:#f06030;border-radius:50%;"></div><div class="t" style="left:866.5px;top:228px;font-size:9.5px;color:#ffffff;font-weight:bold;">87</div><div style="left:903px;top:227.7px;width:9px;height:9px;background:#f5a030;border-radius:50%;"></div><div class="t" style="left:915px;top:228px;font-size:9.5px;color:#ffffff;font-weight:bold;">2</div><div class="t" style="left:927.5px;top:228px;font-size:9.5px;color:#ffffff;font-weight:bold;">399</div><div class="t" style="left:957.5px;top:224.5px;font-size:3.4px;color:#c09030;font-weight:normal;">Araaac</div><div class="t" style="left:957.5px;top:229.5px;font-size:3.4px;color:#c09030;font-weight:normal;">Naasa</div><div class="t" style="left:957.5px;top:234.5px;font-size:3.4px;color:#8a7040;font-weight:normal;">Raaaad</div><div style="left:50px;top:267px;width:561px;height:240px;background:#020124;border:1px solid #15173e;"></div><div style="left:51px;top:295px;width:559px;height:1px;background:#1a1c40;"></div><div style="left:110px;top:268px;width:1px;height:238px;background:#151738;"></div><div style="left:177.8px;top:270px;width:0.8px;height:22px;background:#1a1c40;"></div><div class="t" style="left:55.5px;top:275.5px;font-size:11.5px;color:#f0f0f5;font-weight:bold;letter-spacing:-0.6px;"><span style="color:#e8a020">J</span>measgy</div><div class="t" style="left:117px;top:277.5px;font-size:7px;color:#fff;font-weight:normal;"><span style="color:#3a78c8">Ctaaaaat</span> <span style="color:#e0e2ee">Ihaaaa</span></div><div class="t" style="left:117px;top:285.5px;font-size:3.6px;color:#2a4878;font-weight:normal;">Lnaaaa  Rnaaaaaa Daaa</div><div class="t" style="left:187px;top:280.5px;font-size:4.3px;color:#6a78b0;font-weight:normal;">Ebaaaae</div><svg class="a" style="left:523px;top:279px" width="6.5" height="6.5" viewBox="0 0 6.5 6.5"><circle cx="2.73" cy="2.73" r="2.34" fill="none" stroke="#7a80a8" stroke-width="0.8"/><line x1="4.42" y1="4.42" x2="6.175" y2="6.175" stroke="#7a80a8" stroke-width="0.9"/></svg><svg class="a" style="left:546.2px;top:277.2px" width="9.6" height="9.6" viewBox="-4.8 -4.8 9.6 9.6"><circle cx="0" cy="0" r="3.8" fill="#20284e" stroke="#e0e4f0" stroke-width="0.9"/><path d="M-1.9,1.52 L-0.38,-1.9 L1.14,0.76 L2.09,-1.14" fill="none" stroke="#e0e4f4" stroke-width="0.8"/></svg><div class="t" style="left:563px;top:280px;font-size:4px;color:#b0b4d0;font-weight:normal;">Rsaad</div><div class="t" style="left:580px;top:280px;font-size:4px;color:#8a90b0;font-weight:normal;">nehu</div><div class="t" style="left:597px;top:278px;font-size:6px;color:#d09020;font-weight:normal;">2/7</div><div style="left:56px;top:306px;width:4px;height:4px;border:1px solid #b04030;border-radius:1px;"></div><div class="t" style="left:64px;top:306.2px;font-size:4.3px;color:#d0d4e8;font-weight:normal;">Nnaaa</div><div style="left:54px;top:317px;width:52px;height:10px;background:#f0a020;border-radius:5px;"></div><div class="t" style="left:60px;top:320px;font-size:4px;color:#4a2a00;font-weight:bold;">&#8249; Daaaanaaa</div><div style="left:56px;top:333.5px;width:4px;height:4px;border:0.8px solid #4a5088;border-radius:1px;"></div><div class="t" style="left:66px;top:333.1px;font-size:4.6px;color:#c4c8e0;font-weight:normal;">Rnaaa</div><div style="left:56px;top:346.2px;width:4px;height:4px;border:0.8px solid #4a5088;border-radius:1px;"></div><div class="t" style="left:66px;top:345.8px;font-size:4.6px;color:#c4c8e0;font-weight:normal;">Dnaa</div><div style="left:56px;top:358.9px;width:4px;height:4px;border:0.8px solid #4a5088;border-radius:1px;"></div><div class="t" style="left:66px;top:358.5px;font-size:4.6px;color:#c4c8e0;font-weight:normal;">Rnaaa</div><div style="left:56px;top:371.5px;width:4px;height:4px;border:0.8px solid #4a5088;border-radius:1px;"></div><div class="t" style="left:66px;top:371.1px;font-size:4.6px;color:#c4c8e0;font-weight:normal;">Vnaaa</div><div style="left:56px;top:384.5px;width:4px;height:4px;border:0.8px solid #4a5088;border-radius:1px;"></div><div class="t" style="left:66px;top:384.1px;font-size:4.6px;color:#c4c8e0;font-weight:normal;">Gnaaaaaa</div><div style="left:56px;top:397.2px;width:4px;height:4px;border:0.8px solid #4a5088;border-radius:1px;"></div><div class="t" style="left:66px;top:396.8px;font-size:4.6px;color:#c4c8e0;font-weight:normal;">Rnaaaaa</div><div style="left:56px;top:410.2px;width:4px;height:4px;border:0.8px solid #4a5088;border-radius:1px;"></div><div class="t" style="left:66px;top:409.8px;font-size:4.6px;color:#c4c8e0;font-weight:normal;">Tnaaaaaa</div><div style="left:56px;top:422.9px;width:4px;height:4px;border:0.8px solid #4a5088;border-radius:1px;"></div><div class="t" style="left:66px;top:422.5px;font-size:4.6px;color:#c4c8e0;font-weight:normal;">Rnaaaaaaa</div><div style="left:56px;top:435.9px;width:4px;height:4px;border:0.8px solid #4a5088;border-radius:1px;"></div><div class="t" style="left:66px;top:435.5px;font-size:4.6px;color:#c4c8e0;font-weight:normal;">Dnaaaaaa</div><div style="left:56px;top:495px;width:5px;height:5px;border:1px solid #6a70a0;border-radius:1px;"></div><div class="t" style="left:145.5px;top:306px;font-size:4.6px;color:#eef0f8;font-weight:bold;">Pssaq Voaaae</div><div style="left:115px;top:319px;width:2px;height:20px;background:#d06a20;"></div><div style="left:126px;top:316px;width:71.5px;height:41px;background:#0f1a44;border:1px solid #23386a;border-radius:3px;"></div><div class="t" style="left:140px;top:321.5px;font-size:3.6px;color:#a0a8d0;font-weight:normal;">2Ef   Nnnaaaaes</div><div style="left:127px;top:328px;width:69.5px;height:0.6px;background:#2a3460;"></div><div class="t" style="left:151px;top:335.5px;font-size:13.5px;color:#ffffff;font-weight:bold;letter-spacing:-0.3px;">145</div><div class="t" style="left:160px;top:350.5px;font-size:2.8px;color:#5a6090;font-weight:normal;">nnaa</div><div style="left:126px;top:357px;width:71.5px;height:14px;background:#0a1236;border:1px solid #1c2656;border-top:none;border-radius:0 0 3px 3px;"></div><div style="left:131.5px;top:362px;width:5.5px;height:5.5px;background:#3a8ad8;border-radius:50%;"></div><div class="t" style="left:140px;top:362.8px;font-size:3.6px;color:#8a98c8;font-weight:normal;">Dssa  aaaaaaaaaa</div><div class="t" style="left:128px;top:379.5px;font-size:3.6px;color:#8a90b4;font-weight:normal;">Fnnaa Iaaaaa</div><div style="left:126.8px;top:387.3px;width:69px;height:17.899999999999977px;border:1px solid #1a1e46;border-radius:3px;"></div><div style="left:126.8px;top:409.4px;width:69px;height:18.600000000000023px;border:1px solid #1a1e46;border-radius:3px;"></div><div style="left:126.8px;top:432.3px;width:69px;height:15.699999999999989px;border:1px solid #1a1e46;border-radius:3px;"></div><div style="left:126.8px;top:454px;width:69px;height:17px;border:1px solid #1a1e46;border-radius:3px;"></div><div style="left:126.8px;top:476.2px;width:69px;height:16.600000000000023px;border:1px solid #1a1e46;border-radius:3px;"></div><div style="left:133px;top:392.5px;width:5px;height:7px;background:#e87a30;border-radius:1px;"></div><div class="t" style="left:143.7px;top:393px;font-size:5px;color:#c8cce8;font-weight:normal;">Daalnaq</div><div class="t" style="left:188px;top:393px;font-size:5px;color:#4a5080;font-weight:normal;">&#8250;</div><div class="t" style="left:132.5px;top:415.5px;font-size:5px;color:#d04a3a;font-weight:bold;">C</div><div class="t" style="left:145.5px;top:415.8px;font-size:4.6px;color:#c8cce8;font-weight:normal;">Kaaany</div><div class="t" style="left:145.5px;top:422px;font-size:2.8px;color:#5a6090;font-weight:normal;">aaa</div><div style="left:132.5px;top:437px;width:5px;height:6px;background:#3a9a9a;border-radius:1px;"></div><div class="t" style="left:143.7px;top:438px;font-size:4.6px;color:#c8cce8;font-weight:normal;">Peaj</div><div class="t" style="left:188px;top:437px;font-size:5px;color:#4a5080;font-weight:normal;">&#8250;</div><div class="t" style="left:150.8px;top:457.5px;font-size:7px;color:#d8dcee;font-weight:normal;letter-spacing:-0.3px;">Emiaey</div><div class="t" style="left:128px;top:468.5px;font-size:2.8px;color:#5a6090;font-weight:normal;">Dnaaaaaa</div><div style="left:133px;top:481px;width:4px;height:4px;background:#20284a;border-radius:1px;"></div><div style="left:142px;top:481px;width:6px;height:6px;background:#5ab0e0;border-radius:50%;"></div><div class="t" style="left:151.8px;top:482px;font-size:4px;color:#a8b0d0;font-weight:normal;">Dssaaar</div><div class="t" style="left:211px;top:305.5px;font-size:4px;color:#a0a6c8;font-weight:normal;">Dssdpaaq</div><div style="left:209.5px;top:314.5px;width:174px;height:180.5px;background:#fca510;border-radius:3px;"></div><div class="t" style="left:216px;top:321px;font-size:3.6px;color:#6a4008;font-weight:normal;">Bnsaal Caaaaa</div><div class="t" style="left:268px;top:321px;font-size:3.6px;color:#6a4008;font-weight:normal;">Aaaaa  Naaaaa</div><div class="t" style="left:398px;top:306px;font-size:4.2px;color:#d8dcee;font-weight:normal;">Dauqimsfdaus</div><div style="left:600px;top:307px;width:3px;height:1.2px;background:#e8eaf4;"></div><div style="left:396.6px;top:317.7px;width:214px;height:19px;background:linear-gradient(180deg,#b8bccb,#aeb2c2);border-radius:2px 2px 0 0;"></div><div style="left:607.5px;top:336px;width:3.3px;height:52px;background:#a8acbc;"></div><div class="t" style="left:405.6px;top:323.5px;font-size:4.5px;color:#404458;font-weight:normal;">&#9651;</div><div class="t" style="left:414px;top:324px;font-size:3.8px;color:#4a4e66;font-weight:normal;">Tnnn Naaaae</div><div style="left:414px;top:330.5px;width:27px;height:0.8px;background:#8a8ea4;"></div><div class="t" style="left:478px;top:324px;font-size:3.8px;color:#5a5e76;font-weight:normal;">Pnaaaa  Saaaa  Taaaa</div><div style="left:571.3px;top:323.5px;width:5.5px;height:4px;border:1px solid #505468;"></div><div class="t" style="left:580px;top:324px;font-size:3.8px;color:#505468;font-weight:normal;">Rnaa</div><div class="t" style="left:599px;top:323px;font-size:5px;color:#505468;font-weight:normal;">&#9998;</div><div style="left:397px;top:337.5px;width:82.6px;height:49.8px;background:linear-gradient(90deg,#f6f7fa,#eceef4);border-radius:3px;"></div><div style="left:485px;top:337.5px;width:122.5px;height:49.8px;background:linear-gradient(90deg,#f4f5f8,#eceef4);border-radius:3px;"></div><div style="left:397px;top:394.2px;width:82.6px;height:45.8px;background:linear-gradient(90deg,#f6f7fa 0%,#f0f1f5 45%,#c8cad8 47%,#c2c4d4 100%);border-radius:3px;"></div><div style="left:485px;top:394.2px;width:122.5px;height:45.8px;background:linear-gradient(90deg,#c8cad8,#c0c2d2);border-radius:3px;"></div><div style="left:397px;top:450px;width:210.5px;height:45px;background:linear-gradient(90deg,#f8f9fb,#f0f1f5);border-radius:3px;"></div><div class="t" style="left:404.3px;top:345.2px;font-size:4.2px;color:#181a28;font-weight:bold;">Dnsaaaaq</div><div class="t" style="left:436.6px;top:345.2px;font-size:4.2px;color:#181a28;font-weight:bold;">Tnaaaaaaaq Rnaaa</div><div class="t" style="left:404px;top:358px;font-size:10px;color:#111320;font-weight:bold;">71</div><div class="t" style="left:405px;top:374.5px;font-size:4px;color:#505468;font-weight:normal;">Dbs</div><div class="t" style="left:437px;top:374.5px;font-size:4px;color:#505468;font-weight:normal;">3d50   Tnnn</div><div class="t" style="left:492px;top:345.2px;font-size:4.2px;color:#181a28;font-weight:bold;">Dnnsan</div><div class="t" style="left:524px;top:345.2px;font-size:4.2px;color:#181a28;font-weight:bold;">Dsaaoll</div><div class="t" style="left:564.7px;top:345.2px;font-size:4.2px;color:#181a28;font-weight:bold;">Rnaaa Pntas</div><div class="t" style="left:524px;top:374.5px;font-size:4px;color:#505468;font-weight:normal;">D2d0   Taaaa</div><div class="t" style="left:564.7px;top:374.5px;font-size:4px;color:#505468;font-weight:normal;">D5ta   aaaa</div><div class="t" style="left:404.3px;top:401px;font-size:4.2px;color:#181a28;font-weight:bold;">Dnst Haaa</div><div class="t" style="left:437px;top:401px;font-size:3.6px;color:#303448;font-weight:normal;">Ctshaaaa pnr</div><div class="t" style="left:404px;top:412px;font-size:11px;color:#111320;font-weight:bold;letter-spacing:-0.4px;">224</div><div class="t" style="left:405px;top:428.5px;font-size:4px;color:#505468;font-weight:normal;">Dba</div><div class="t" style="left:437px;top:428.5px;font-size:4px;color:#505468;font-weight:normal;">Dd5   Tnn</div><div class="t" style="left:523px;top:401px;font-size:3.8px;color:#2a50a0;font-weight:normal;">Tnaaaaaaal</div><div class="t" style="left:564.7px;top:401px;font-size:3.8px;color:#303448;font-weight:normal;">Rsssaaaaaan</div><div class="t" style="left:490px;top:428.5px;font-size:3.6px;color:#404458;font-weight:normal;">Dd Rsd</div><div class="t" style="left:523px;top:428.5px;font-size:3.4px;color:#505468;font-weight:normal;">Rnrts  Hns</div><div class="t" style="left:564.7px;top:428.5px;font-size:3.4px;color:#505468;font-weight:normal;">Pnrs   Hn</div><div class="t" style="left:404.6px;top:458.5px;font-size:4.2px;color:#181a28;font-weight:bold;">Dnaal Faaa</div><div class="t" style="left:440.3px;top:458.5px;font-size:4.2px;color:#181a28;font-weight:bold;">Tnaaaa Taaaaa</div><div class="t" style="left:480.4px;top:458.5px;font-size:4.2px;color:#181a28;font-weight:bold;">Pnaaa Naa</div><div class="t" style="left:517.4px;top:458.5px;font-size:4.2px;color:#181a28;font-weight:bold;">Tnaaaaa</div><div class="t" style="left:554.8px;top:458.5px;font-size:4.2px;color:#181a28;font-weight:bold;">Saaaaaaa  Vaaaaaaa</div><div class="t" style="left:439.5px;top:468.5px;font-size:12px;color:#111320;font-weight:bold;letter-spacing:-0.3px;">3.30</div><div class="t" style="left:480px;top:468.5px;font-size:12px;color:#111320;font-weight:bold;letter-spacing:-0.3px;">225</div><div class="t" style="left:440.3px;top:484.5px;font-size:4px;color:#505468;font-weight:normal;">Dnaaa</div><div class="t" style="left:480.4px;top:484.5px;font-size:4px;color:#505468;font-weight:normal;">Dh Fa</div><div class="t" style="left:554.8px;top:484.5px;font-size:4px;color:#505468;font-weight:normal;">PNB</div><svg class="a" style="left:396px;top:336px" width="215" height="160" viewBox="396 336 215 160"><path d="M436.0,358.1 C437.2,358.9 440.9,362.1 443.4,362.8 C445.9,363.4 448.3,362.9 450.8,362.2 C453.3,361.6 455.7,359.2 458.2,358.9 C460.7,358.6 463.1,360.3 465.6,360.5 C468.1,360.7 471.8,360.2 473.0,360.2" fill="none" stroke="#7a9ad0" stroke-width="0.9" opacity="0.9"/><path d="M436.0,361.5 C437.2,361.6 440.9,363.0 443.4,362.4 C445.9,361.8 448.3,358.7 450.8,357.9 C453.3,357.0 455.7,356.6 458.2,357.4 C460.7,358.2 463.1,362.2 465.6,362.7 C468.1,363.1 471.8,360.5 473.0,360.1" fill="none" stroke="#e8a070" stroke-width="0.9" opacity="0.9"/><path d="M436.0,362.2 C437.2,361.4 440.9,357.6 443.4,357.3 C445.9,356.9 448.3,359.4 450.8,360.1 C453.3,360.9 455.7,362.2 458.2,361.9 C460.7,361.7 463.1,358.5 465.6,358.7 C468.1,359.0 471.8,362.6 473.0,363.4" fill="none" stroke="#d07050" stroke-width="0.9" opacity="0.9"/><path d="M524.0,363.9 C525.1,363.9 528.5,365.0 530.8,363.9 C533.1,362.7 535.3,358.3 537.6,357.2 C539.9,356.1 542.1,356.4 544.4,357.4 C546.7,358.4 548.9,362.2 551.2,363.0 C553.5,363.8 556.9,362.4 558.0,362.3" fill="none" stroke="#e07050" stroke-width="0.9" opacity="0.9"/><path d="M524.0,361.8 C525.1,361.3 528.5,359.1 530.8,359.1 C533.1,359.0 535.3,360.9 537.6,361.3 C539.9,361.7 542.1,361.3 544.4,361.3 C546.7,361.3 548.9,361.7 551.2,361.1 C553.5,360.5 556.9,358.5 558.0,357.9" fill="none" stroke="#70a0d0" stroke-width="0.9" opacity="0.9"/><path d="M524.0,360.0 C525.1,359.9 528.5,359.3 530.8,359.7 C533.1,360.1 535.3,361.4 537.6,362.2 C539.9,362.9 542.1,363.9 544.4,364.2 C546.7,364.5 548.9,364.4 551.2,363.9 C553.5,363.3 556.9,361.3 558.0,360.8" fill="none" stroke="#e8a070" stroke-width="0.9" opacity="0.9"/><path d="M524.0,360.1 C525.1,359.9 528.5,359.3 530.8,358.8 C533.1,358.3 535.3,357.3 537.6,357.0 C539.9,356.7 542.1,356.4 544.4,357.0 C546.7,357.5 548.9,359.9 551.2,360.2 C553.5,360.6 556.9,359.3 558.0,359.1" fill="none" stroke="#90b0e0" stroke-width="0.9" opacity="0.9"/><path d="M565.0,358.5 C566.2,358.9 569.8,360.7 572.2,360.8 C574.6,361.0 577.0,359.5 579.4,359.5 C581.8,359.6 584.2,361.0 586.6,361.3 C589.0,361.6 591.4,362.1 593.8,361.4 C596.2,360.8 599.8,357.9 601.0,357.2" fill="none" stroke="#7a90d0" stroke-width="0.9" opacity="0.9"/><path d="M565.0,356.8 C566.2,357.9 569.8,362.7 572.2,363.0 C574.6,363.3 577.0,359.4 579.4,358.7 C581.8,357.9 584.2,357.6 586.6,358.5 C589.0,359.4 591.4,363.9 593.8,364.2 C596.2,364.5 599.8,360.9 601.0,360.3" fill="none" stroke="#e8a070" stroke-width="0.9" opacity="0.9"/><path d="M565.0,363.0 C566.2,362.6 569.8,360.6 572.2,360.3 C574.6,360.1 577.0,362.0 579.4,361.5 C581.8,361.1 584.2,357.9 586.6,357.9 C589.0,357.9 591.4,360.6 593.8,361.5 C596.2,362.4 599.8,363.0 601.0,363.3" fill="none" stroke="#d07050" stroke-width="0.9" opacity="0.9"/><path d="M565.0,360.7 C566.2,360.9 569.8,362.1 572.2,362.3 C574.6,362.5 577.0,362.6 579.4,361.8 C581.8,360.9 584.2,357.1 586.6,357.2 C589.0,357.3 591.4,361.8 593.8,362.4 C596.2,363.1 599.8,361.4 601.0,361.2" fill="none" stroke="#c0c8e0" stroke-width="0.9" opacity="0.9"/><path d="M437.0,414.4 C438.2,414.3 441.8,413.5 444.2,413.6 C446.6,413.8 449.0,415.3 451.4,415.4 C453.8,415.4 456.2,414.3 458.6,413.9 C461.0,413.6 463.4,413.2 465.8,413.4 C468.2,413.6 471.8,415.1 473.0,415.4" fill="none" stroke="#e8a070" stroke-width="0.9" opacity="0.9"/><path d="M437.0,418.5 C438.2,418.4 441.8,418.0 444.2,417.8 C446.6,417.6 449.0,418.2 451.4,417.6 C453.8,417.0 456.2,414.6 458.6,414.3 C461.0,414.1 463.4,416.2 465.8,416.2 C468.2,416.3 471.8,414.9 473.0,414.7" fill="none" stroke="#7a9ad0" stroke-width="0.9" opacity="0.9"/><path d="M437.0,414.0 C438.2,414.0 441.8,413.6 444.2,413.6 C446.6,413.7 449.0,413.5 451.4,414.3 C453.8,415.1 456.2,418.0 458.6,418.6 C461.0,419.2 463.4,418.1 465.8,418.0 C468.2,417.9 471.8,417.9 473.0,417.8" fill="none" stroke="#d09060" stroke-width="0.9" opacity="0.9"/><path d="M523.0,416.0 C524.2,416.1 527.8,416.7 530.2,416.9 C532.6,417.2 535.0,417.1 537.4,417.4 C539.8,417.6 542.2,418.6 544.6,418.5 C547.0,418.5 549.4,416.9 551.8,416.9 C554.2,416.9 557.8,418.1 559.0,418.4" fill="none" stroke="#e8a070" stroke-width="0.9" opacity="0.9"/><path d="M523.0,411.2 C524.2,411.8 527.8,413.5 530.2,414.7 C532.6,415.9 535.0,418.3 537.4,418.5 C539.8,418.8 542.2,416.2 544.6,416.2 C547.0,416.1 549.4,418.9 551.8,418.2 C554.2,417.5 557.8,413.0 559.0,411.9" fill="none" stroke="#d08060" stroke-width="0.9" opacity="0.9"/><path d="M523.0,414.8 C524.2,414.5 527.8,412.9 530.2,413.0 C532.6,413.1 535.0,414.9 537.4,415.4 C539.8,415.8 542.2,416.3 544.6,415.6 C547.0,414.9 549.4,411.6 551.8,411.1 C554.2,410.6 557.8,412.5 559.0,412.7" fill="none" stroke="#7a90c0" stroke-width="0.9" opacity="0.9"/><path d="M565.0,416.1 C566.2,416.1 569.8,416.6 572.2,416.3 C574.6,415.9 577.0,414.5 579.4,413.9 C581.8,413.2 584.2,412.9 586.6,412.3 C589.0,411.8 591.4,410.0 593.8,410.5 C596.2,411.0 599.8,414.4 601.0,415.1" fill="none" stroke="#e8a070" stroke-width="0.9" opacity="0.9"/><path d="M565.0,413.8 C566.2,414.1 569.8,415.9 572.2,415.8 C574.6,415.7 577.0,413.1 579.4,413.1 C581.8,413.1 584.2,416.0 586.6,415.9 C589.0,415.8 591.4,412.4 593.8,412.4 C596.2,412.4 599.8,415.5 601.0,416.1" fill="none" stroke="#d08060" stroke-width="0.9" opacity="0.9"/><path d="M518.0,471.2 C520.8,471.0 529.2,469.5 534.8,469.9 C540.4,470.3 546.0,473.7 551.6,473.6 C557.2,473.5 562.8,469.4 568.4,469.3 C574.0,469.1 579.6,472.4 585.2,472.8 C590.8,473.1 599.2,471.7 602.0,471.5" fill="none" stroke="#e07050" stroke-width="0.9" opacity="0.9"/><path d="M518.0,469.2 C520.8,469.7 529.2,472.6 534.8,472.6 C540.4,472.5 546.0,469.1 551.6,469.0 C557.2,468.9 562.8,472.0 568.4,472.0 C574.0,472.0 579.6,469.7 585.2,469.3 C590.8,468.8 599.2,469.4 602.0,469.4" fill="none" stroke="#d08060" stroke-width="0.9" opacity="0.9"/><path d="M518.0,471.9 C520.8,472.4 529.2,475.3 534.8,475.0 C540.4,474.6 546.0,470.4 551.6,469.7 C557.2,468.9 562.8,469.8 568.4,470.4 C574.0,471.1 579.6,472.6 585.2,473.5 C590.8,474.4 599.2,475.5 602.0,475.9" fill="none" stroke="#7a90d0" stroke-width="0.9" opacity="0.9"/><rect x="490" y="350.6" width="27.4" height="28" fill="#f0f0f2"/><path d="M490.5,378.6 Q491.5,370 503.5,368.5 Q515.5,370 516.8,378.6 Z" fill="#a8402e"/><ellipse cx="503" cy="361" rx="6.8" ry="9.3" fill="#c87a58"/><ellipse cx="503" cy="356" rx="6.2" ry="4.2" fill="#d8a478"/><rect x="498" y="359" width="10" height="1.2" fill="#7a4030" opacity="0.7"/><path d="M491.5,414 Q493,405 504,405 Q516,405.5 516.3,412 Q516,419 505,421 Q492,421 491.5,414 Z" fill="#eea040"/><path d="M496,410 L512,409 M495,414 L513,413" stroke="#d07a20" stroke-width="0.8"/><circle cx="418.2" cy="477" r="8.4" fill="none" stroke="#3a9a50" stroke-width="5.6"/><path d="M413.4,470.1 A8.4,8.4 0 0 1 426.4,478.5" fill="none" stroke="#dc4a2c" stroke-width="5.6"/><path d="M426.4,478.5 A8.4,8.4 0 0 1 423.5,483.5" fill="none" stroke="#e07a30" stroke-width="5.6"/><circle cx="418.2" cy="477" r="5.4" fill="#eceef2"/><circle cx="418.2" cy="477" r="1.6" fill="#a8b0c0"/></svg><div style="left:633px;top:268px;width:349px;height:239px;background:#020124;border:1px solid #15173e;"></div><div style="left:634px;top:296px;width:347px;height:1px;background:#1a1c40;"></div><div style="left:683px;top:297px;width:1px;height:209px;background:#151738;"></div><div style="left:682.5px;top:270px;width:0.8px;height:24px;background:#181a3c;"></div><div class="t" style="left:638.5px;top:275.5px;font-size:11.5px;color:#f0f0f5;font-weight:bold;letter-spacing:-0.4px;font-style:italic;"><span style="color:#e8a020">J</span>hiegy</div><div class="t" style="left:686.5px;top:277.5px;font-size:6.4px;color:#5a80c4;font-weight:normal;">Fuaaaat Eliaa Daaaaaa</div><div class="t" style="left:687px;top:285px;font-size:3.4px;color:#2a4878;font-weight:normal;">Inaaaaaa</div><svg class="a" style="left:902px;top:278px" width="6.5" height="6.5" viewBox="0 0 6.5 6.5"><circle cx="2.73" cy="2.73" r="2.34" fill="none" stroke="#7a80a8" stroke-width="0.8"/><line x1="4.42" y1="4.42" x2="6.175" y2="6.175" stroke="#7a80a8" stroke-width="0.9"/></svg><div style="left:917px;top:272px;width:0.8px;height:18px;background:#1a1c40;"></div><svg class="a" style="left:922.2px;top:276.2px" width="9.6" height="9.6" viewBox="-4.8 -4.8 9.6 9.6"><circle cx="0" cy="0" r="3.8" fill="#121a44" stroke="#c8cce0" stroke-width="0.9"/><path d="M-1.9,1.52 L-0.38,-1.9 L1.14,0.76 L2.09,-1.14" fill="none" stroke="#e0e4f4" stroke-width="0.8"/></svg><div class="t" style="left:937px;top:279px;font-size:3.8px;color:#b0b4d0;font-weight:normal;">Dnaa</div><div class="t" style="left:952px;top:279px;font-size:3.8px;color:#8a90b0;font-weight:normal;">nna</div><div class="t" style="left:966px;top:277.5px;font-size:5.5px;color:#d09020;font-weight:normal;">2/7</div><div style="left:634px;top:319px;width:48px;height:15px;background:#080a30;"></div><div style="left:640px;top:305.0px;width:4.5px;height:4px;border:0.9px solid #8088b0;border-radius:1px;"></div><div class="t" style="left:649.7px;top:304.2px;font-size:5px;color:#b0b6d4;font-weight:normal;">Rnaa</div><div style="left:640px;top:323.9px;width:4.5px;height:4px;border:0.9px solid #8088b0;border-radius:1px;"></div><div class="t" style="left:649.7px;top:323.09999999999997px;font-size:5px;color:#b0b6d4;font-weight:normal;">Dnaaa</div><div style="left:640px;top:341.7px;width:4.5px;height:4px;border:0.9px solid #8088b0;border-radius:1px;"></div><div class="t" style="left:649.7px;top:340.9px;font-size:5px;color:#b0b6d4;font-weight:normal;">Dnaaa</div><div style="left:640px;top:358.7px;width:4.5px;height:4px;border:0.9px solid #8088b0;border-radius:1px;"></div><div class="t" style="left:649.7px;top:357.9px;font-size:5px;color:#b0b6d4;font-weight:normal;">Pnaaaa</div><div style="left:640px;top:376.2px;width:4.5px;height:4px;border:0.9px solid #8088b0;border-radius:1px;"></div><div class="t" style="left:649.7px;top:375.4px;font-size:5px;color:#b0b6d4;font-weight:normal;">Dnaaa</div><div style="left:640px;top:393.59999999999997px;width:4.5px;height:4px;border:0.9px solid #8088b0;border-radius:1px;"></div><div class="t" style="left:649.7px;top:392.79999999999995px;font-size:5px;color:#b0b6d4;font-weight:normal;">Pnaaa</div><div style="left:640px;top:411.4px;width:4.5px;height:4px;border:0.9px solid #8088b0;border-radius:1px;"></div><div class="t" style="left:649.7px;top:410.59999999999997px;font-size:5px;color:#b0b6d4;font-weight:normal;">Vnaaaaa</div><div style="left:640px;top:430.0px;width:4.5px;height:4px;border:0.9px solid #8088b0;border-radius:1px;"></div><div class="t" style="left:649.7px;top:429.2px;font-size:5px;color:#b0b6d4;font-weight:normal;">Dnaaaaa</div><div style="left:640px;top:495px;width:5px;height:5px;border:1px solid #6a70a0;border-radius:50%;"></div><div style="left:694px;top:304px;width:61px;height:12px;background:#0b1236;border-radius:1.5px;"></div><div class="t" style="left:716.45px;top:308px;font-size:4.2px;color:#dce0f0;font-weight:normal;">Pnaaaaa</div><div style="left:765px;top:304px;width:65px;height:12px;background:#0b1236;border-radius:1.5px;"></div><div class="t" style="left:791.75px;top:308px;font-size:4.2px;color:#dce0f0;font-weight:normal;">Dnaaa</div><div style="left:835px;top:304px;width:60px;height:12px;background:#0b1236;border-radius:1.5px;"></div><div class="t" style="left:850.05px;top:308px;font-size:4.2px;color:#dce0f0;font-weight:normal;">Pnaaaa Daaaaa</div><div style="left:901px;top:304px;width:44px;height:12px;background:#0b1236;border-radius:1.5px;"></div><div class="t" style="left:911.5px;top:308px;font-size:4.2px;color:#dce0f0;font-weight:normal;">Pnaa Daaaa</div><div style="left:946.5px;top:304px;width:27.5px;height:11px;background:#68b830;border-radius:1.5px;"></div><div class="t" style="left:950px;top:307.5px;font-size:3.6px;color:#d8f0c0;font-weight:normal;">Pnaaaaa</div><div style="left:694px;top:317.5px;width:61px;height:50px;background:#060a2e;border:1px solid #161c46;border-radius:2px;"></div><div class="t" style="left:715.7px;top:326.5px;font-size:3.8px;color:#3a9a6a;font-weight:normal;">Dnaaa</div><div class="t" style="left:717px;top:339.5px;font-size:12px;color:#f0f2f8;font-weight:bold;letter-spacing:-0.3px;">857</div><div class="t" style="left:722px;top:356.5px;font-size:3px;color:#6a70a0;font-weight:normal;">aaa</div><div class="t" style="left:703.5px;top:379px;font-size:3.6px;color:#3a9a6a;font-weight:normal;">Rnaaa</div><div class="t" style="left:727.6px;top:382px;font-size:3.6px;color:#8a90b0;font-weight:normal;">Pnaaa</div><div style="left:704.5px;top:388.6px;width:4px;height:4px;background:#8a90c0;"></div><div class="t" style="left:712.8px;top:388.8px;font-size:3.4px;color:#5a6090;font-weight:normal;">Dnaa</div><div class="t" style="left:727.6px;top:388.8px;font-size:3.4px;color:#5a6090;font-weight:normal;">Daa</div><div style="left:704.5px;top:399.7px;width:4px;height:4px;background:#3a7a8a;"></div><div class="t" style="left:712.8px;top:399.9px;font-size:3.4px;color:#5a6090;font-weight:normal;">Dnaa</div><div class="t" style="left:727.6px;top:399.9px;font-size:3.4px;color:#5a6090;font-weight:normal;">Daa</div><div style="left:704.5px;top:410.5px;width:4px;height:4px;background:#3a4a7a;"></div><div class="t" style="left:712.8px;top:410.7px;font-size:3.4px;color:#5a6090;font-weight:normal;">Dnaa</div><div class="t" style="left:727.6px;top:410.7px;font-size:3.4px;color:#5a6090;font-weight:normal;">Daa</div><div style="left:704.5px;top:421.3px;width:4px;height:4px;background:#3a4a7a;"></div><div class="t" style="left:712.8px;top:421.5px;font-size:3.4px;color:#5a6090;font-weight:normal;">Dnaa</div><div class="t" style="left:727.6px;top:421.5px;font-size:3.4px;color:#5a6090;font-weight:normal;">Daa</div><div style="left:694px;top:391.7px;width:0.8px;height:15px;background:#22264e;"></div><svg class="a" style="left:760px;top:318px" width="222" height="120" viewBox="760 318 222 120"><line x1="780.4" y1="320" x2="780.4" y2="421" stroke="#08092c" stroke-width="0.7"/><line x1="796.5" y1="320" x2="796.5" y2="421" stroke="#08092c" stroke-width="0.7"/><line x1="812.6" y1="320" x2="812.6" y2="421" stroke="#08092c" stroke-width="0.7"/><line x1="828.6999999999999" y1="320" x2="828.6999999999999" y2="421" stroke="#08092c" stroke-width="0.7"/><line x1="844.8" y1="320" x2="844.8" y2="421" stroke="#08092c" stroke-width="0.7"/><line x1="860.9" y1="320" x2="860.9" y2="421" stroke="#08092c" stroke-width="0.7"/><line x1="877.0" y1="320" x2="877.0" y2="421" stroke="#08092c" stroke-width="0.7"/><line x1="893.1" y1="320" x2="893.1" y2="421" stroke="#08092c" stroke-width="0.7"/><line x1="909.2" y1="320" x2="909.2" y2="421" stroke="#08092c" stroke-width="0.7"/><line x1="925.3" y1="320" x2="925.3" y2="421" stroke="#08092c" stroke-width="0.7"/><line x1="941.4" y1="320" x2="941.4" y2="421" stroke="#08092c" stroke-width="0.7"/><line x1="957.5" y1="320" x2="957.5" y2="421" stroke="#08092c" stroke-width="0.7"/><line x1="780" y1="328.3" x2="966" y2="328.3" stroke="#08092c" stroke-width="0.7"/><line x1="780" y1="343.3" x2="966" y2="343.3" stroke="#08092c" stroke-width="0.7"/><line x1="780" y1="363.7" x2="966" y2="363.7" stroke="#08092c" stroke-width="0.7"/><line x1="780" y1="378.3" x2="966" y2="378.3" stroke="#08092c" stroke-width="0.7"/><line x1="780" y1="392.7" x2="966" y2="392.7" stroke="#08092c" stroke-width="0.7"/><line x1="780" y1="407.1" x2="966" y2="407.1" stroke="#08092c" stroke-width="0.7"/><line x1="780.4" y1="421.3" x2="966.3" y2="421.3" stroke="#2a2e5a" stroke-width="0.8"/><line x1="780.4" y1="322" x2="780.4" y2="421.3" stroke="#1a1e48" stroke-width="0.7"/><path d="M826.0,392.0 C826.8,391.2 828.4,389.0 831.0,387.3 C833.6,385.6 838.0,382.2 841.6,382.0 C845.2,381.8 849.2,386.1 852.4,386.3 C855.6,386.5 857.8,385.3 861.0,383.0 C864.2,380.7 868.5,375.5 871.7,372.3 C874.9,369.1 877.4,366.8 880.3,363.7 C883.2,360.6 886.9,356.3 889.0,354.0 C891.1,351.7 892.3,350.7 893.0,350.0" fill="none" stroke="#6e1e2e" stroke-width="1"/><path d="M910.0,406.0 C910.6,405.4 911.4,404.8 913.6,402.4 C915.8,400.0 919.9,394.8 923.3,391.6 C926.7,388.4 930.6,384.1 934.0,383.0 C937.4,381.9 940.5,386.3 943.7,385.2 C946.9,384.1 950.5,377.7 953.4,376.6 C956.3,375.5 958.8,378.1 960.9,378.8 C963.0,379.5 965.4,380.6 966.3,381.0" fill="none" stroke="#7e2030" stroke-width="1"/><path d="M783.6,411.0 C784.7,410.5 788.2,408.9 790.0,407.8 C791.8,406.7 792.9,404.9 794.4,404.5 C795.9,404.1 797.1,406.7 798.7,405.6 C800.3,404.5 801.7,398.3 804.0,398.1 C806.3,397.9 810.1,404.3 812.6,404.5 C815.1,404.7 817.0,400.4 819.0,399.2 C821.0,397.9 822.9,398.1 824.5,397.0 C826.1,395.9 827.4,392.9 828.8,392.7 C830.2,392.5 831.0,396.7 833.0,396.0 C835.0,395.3 838.1,389.4 840.6,388.4 C843.1,387.4 845.0,388.6 848.0,389.9 C851.0,391.2 855.4,396.2 858.8,396.0 C862.2,395.8 865.6,388.0 868.5,388.4 C871.4,388.8 873.1,396.9 876.0,398.1 C878.9,399.3 883.2,395.5 885.7,395.5 C888.2,395.5 888.1,397.7 891.0,398.1 C893.9,398.5 899.7,397.2 902.9,398.1 C906.1,399.0 907.7,401.4 910.4,403.5 C913.1,405.6 916.1,409.4 919.0,411.0 C921.9,412.6 924.4,412.0 927.6,413.1 C930.8,414.2 935.4,417.1 938.3,417.4 C941.2,417.6 942.5,414.6 944.8,414.6 C947.1,414.6 949.6,418.0 952.3,417.4 C955.0,416.8 958.6,411.9 960.9,411.0 C963.2,410.1 965.4,411.8 966.3,412.0" fill="none" stroke="#948a48" stroke-width="0.9"/><circle cx="792.2" cy="345.4" r="20.4" fill="#03032a" stroke="#16183e" stroke-width="1"/><circle cx="954.4" cy="345.4" r="20.4" fill="#03032a" stroke="#14163c" stroke-width="1"/><circle cx="904.4" cy="345.4" r="14.4" fill="#03032a" stroke="#8a8434" stroke-width="0.9"/><path d="M902.9,339.5 L905.8,347.2 L912.5,351.2" fill="none" stroke="#d0b848" stroke-width="1.1"/></svg><div class="t" style="left:769px;top:326.3px;font-size:3.6px;color:#6a70a0;font-weight:normal;">51</div><div class="t" style="left:769px;top:341.3px;font-size:3.6px;color:#6a70a0;font-weight:normal;">9</div><div class="t" style="left:769px;top:361.7px;font-size:3.6px;color:#6a70a0;font-weight:normal;">7.5</div><div class="t" style="left:769px;top:376.3px;font-size:3.6px;color:#6a70a0;font-weight:normal;">250</div><div class="t" style="left:769px;top:390.7px;font-size:3.6px;color:#6a70a0;font-weight:normal;">105</div><div class="t" style="left:769px;top:405.1px;font-size:3.6px;color:#6a70a0;font-weight:normal;">400</div><div class="t" style="left:769px;top:419.3px;font-size:3.6px;color:#6a70a0;font-weight:normal;">0</div><div class="t" style="left:783.9px;top:425.5px;font-size:3.6px;color:#6a70a0;font-weight:normal;">Ana</div><div class="t" style="left:800px;top:425.5px;font-size:3.6px;color:#6a70a0;font-weight:normal;">Ats</div><div class="t" style="left:815.4px;top:425.5px;font-size:3.6px;color:#6a70a0;font-weight:normal;">Dtd</div><div class="t" style="left:831px;top:425.5px;font-size:3.6px;color:#6a70a0;font-weight:normal;">Sdt</div><div class="t" style="left:846.2px;top:425.5px;font-size:3.6px;color:#6a70a0;font-weight:normal;">Aal</div><div class="t" style="left:861.6px;top:425.5px;font-size:3.6px;color:#6a70a0;font-weight:normal;">Lts</div><div class="t" style="left:877.3px;top:425.5px;font-size:3.6px;color:#6a70a0;font-weight:normal;">Cut</div><div class="t" style="left:892px;top:425.5px;font-size:3.6px;color:#6a70a0;font-weight:normal;">Ptn</div><div class="t" style="left:907.4px;top:425.5px;font-size:3.6px;color:#6a70a0;font-weight:normal;">Ddn</div><div class="t" style="left:922.4px;top:425.5px;font-size:3.6px;color:#6a70a0;font-weight:normal;">Bul</div><div class="t" style="left:938px;top:425.5px;font-size:3.6px;color:#6a70a0;font-weight:normal;">Dsa</div><div class="t" style="left:953.6px;top:425.5px;font-size:3.6px;color:#6a70a0;font-weight:normal;">Hos</div><div class="t" style="left:886.5px;top:431px;font-size:3.4px;color:#6a70a0;font-weight:normal;">pv</div><div class="t" style="left:786px;top:328.5px;font-size:3.2px;color:#6a70a0;font-weight:normal;">Rnaa</div><div class="t" style="left:779px;top:342.5px;font-size:10px;color:#f4f6fc;font-weight:bold;letter-spacing:-0.4px;">1008</div><div class="t" style="left:787px;top:359.5px;font-size:3.2px;color:#6a70a0;font-weight:normal;">aaaa</div><div class="t" style="left:948px;top:328.5px;font-size:3.2px;color:#6a70a0;font-weight:normal;">Rnaa</div><div class="t" style="left:943.5px;top:342.5px;font-size:10px;color:#f4f6fc;font-weight:bold;letter-spacing:-0.4px;">1260</div><div class="t" style="left:950px;top:359.5px;font-size:3.2px;color:#6a70a0;font-weight:normal;">aaa</div><div style="left:49.6px;top:527.5px;width:329.4px;height:228.5px;background:#020124;border:1px solid #15173e;"></div><div style="left:50.6px;top:556px;width:326.4px;height:1px;background:#1a1c40;"></div><div style="left:93px;top:529px;width:1px;height:226px;background:#151738;"></div><div class="t" style="left:56px;top:535px;font-size:11.5px;color:#f0f0f5;font-weight:bold;letter-spacing:-0.3px;font-style:italic;"><span style="color:#e8a020">J</span>hagy</div><div class="t" style="left:98px;top:537px;font-size:6.2px;color:#4a7ac8;font-weight:normal;font-style:italic;">Pnaaaaat Paaa Daaaaa</div><div class="t" style="left:98px;top:544.5px;font-size:3.2px;color:#2a4878;font-weight:normal;">Lnaaaaaaa</div><svg class="a" style="left:305px;top:537.5px" width="6.5" height="6.5" viewBox="0 0 6.5 6.5"><circle cx="2.73" cy="2.73" r="2.34" fill="none" stroke="#7a80a8" stroke-width="0.8"/><line x1="4.42" y1="4.42" x2="6.175" y2="6.175" stroke="#7a80a8" stroke-width="0.9"/></svg><div style="left:319.6px;top:531px;width:0.8px;height:20px;background:#0e1034;"></div><svg class="a" style="left:325.0px;top:535.7px" width="9.6" height="9.6" viewBox="-4.8 -4.8 9.6 9.6"><circle cx="0" cy="0" r="3.8" fill="#1a2a5e" stroke="#8a98c8" stroke-width="0.9"/><path d="M-1.9,1.52 L-0.38,-1.9 L1.14,0.76 L2.09,-1.14" fill="none" stroke="#e0e4f4" stroke-width="0.8"/></svg><div class="t" style="left:340.7px;top:538.5px;font-size:4.4px;color:#c8cce0;font-weight:normal;">Dnaaaaa</div><div class="t" style="left:363px;top:537.5px;font-size:5.5px;color:#d09020;font-weight:normal;font-style:italic;">3/7</div><div class="t" style="left:55px;top:563.5px;font-size:4px;color:#8a90b4;font-weight:normal;">&#8249;</div><div class="t" style="left:65.6px;top:563.5px;font-size:3.4px;color:#8a90b4;font-weight:normal;">Rnaa</div><div style="left:56px;top:583px;width:1.5px;height:17px;background:#1e3a7a;"></div><div class="t" style="left:64.5px;top:573.5px;font-size:4.2px;color:#aab0d0;font-weight:normal;">Tnaaaaaaaa</div><div class="t" style="left:64.5px;top:587.1999999999999px;font-size:4.2px;color:#aab0d0;font-weight:normal;">1.30000</div><div class="t" style="left:64.5px;top:600.8px;font-size:4.2px;color:#aab0d0;font-weight:normal;">1.10000</div><div class="t" style="left:64.5px;top:615.1999999999999px;font-size:4.2px;color:#aab0d0;font-weight:normal;">1.20000</div><div class="t" style="left:64.5px;top:629.1999999999999px;font-size:4.2px;color:#aab0d0;font-weight:normal;">1.20000</div><div class="t" style="left:64.5px;top:644.3px;font-size:4.2px;color:#aab0d0;font-weight:normal;">1.10000</div><div class="t" style="left:64.5px;top:657.8px;font-size:4.2px;color:#aab0d0;font-weight:normal;">1.10000</div><div class="t" style="left:64.5px;top:673.3px;font-size:4.2px;color:#aab0d0;font-weight:normal;">2.10000</div><div class="t" style="left:64.5px;top:687.8px;font-size:4.2px;color:#aab0d0;font-weight:normal;">1.10000</div><div class="t" style="left:64.5px;top:702.4px;font-size:4.2px;color:#aab0d0;font-weight:normal;">1.0000</div><div style="left:56px;top:744px;width:4.5px;height:4.5px;border:1px solid #6a70a0;border-radius:1px;"></div><div class="t" style="left:98.8px;top:563.5px;font-size:6.5px;color:#e0e2ee;font-weight:normal;">Catarbiae</div><div style="left:311.7px;top:562.7px;width:58px;height:10.3px;background:#1c2246;border:1px solid #2a3060;border-radius:1.5px;"></div><div class="t" style="left:315px;top:566px;font-size:3.4px;color:#9aa0c8;font-weight:normal;">Dnaaaa  Pnn</div><div style="left:357.8px;top:564.5px;width:10.5px;height:6.5px;background:#e8ecf8;border-radius:1px;"></div><svg class="a" style="left:90px;top:585px" width="285" height="125" viewBox="90 585 285 125"><path d="M168.70,589.00 A52,52 0 0 1 213.27,667.78 L196.99,658.00 A33,33 0 0 0 168.70,608.00 Z" fill="#6e97dc"/><path d="M145.09,687.33 A52,52 0 0 1 168.70,589.00 L168.70,608.00 A33,33 0 0 0 153.72,670.40 Z" fill="#3b82d8"/><rect x="112.5" y="689.2" width="6.8" height="13.799999999999955" fill="#e8561c"/><rect x="121" y="675.5" width="6.8" height="27.5" fill="#e8561c"/><rect x="129.5" y="677.9" width="6.9" height="25.100000000000023" fill="#862432"/><rect x="138" y="687.5" width="7" height="15.5" fill="#862432"/><rect x="144.2" y="665.2" width="6.8" height="37.799999999999955" fill="#e8561c"/><rect x="153.5" y="667.6" width="6.8" height="35.39999999999998" fill="#e8561c"/><rect x="164.7" y="672" width="6.9" height="31" fill="#862432"/><rect x="173.3" y="659" width="6.7" height="44" fill="#b8342a"/><rect x="186.3" y="661" width="6.7" height="42" fill="#862432"/><rect x="194.5" y="653.3" width="6.8" height="49.700000000000045" fill="#e8561c"/><rect x="203" y="666.3" width="6.9" height="36.700000000000045" fill="#862432"/><rect x="210.9" y="670.4" width="6.8" height="32.60000000000002" fill="#862432"/><rect x="219.4" y="666.3" width="6.9" height="36.700000000000045" fill="#862432"/><rect x="228.7" y="656" width="6.8" height="47" fill="#e8561c"/><rect x="236.5" y="667.6" width="6.9" height="35.39999999999998" fill="#b8342a"/><rect x="246" y="667.6" width="6.9" height="35.39999999999998" fill="#862432"/><rect x="254.6" y="647.1" width="6.9" height="55.89999999999998" fill="#b8342a"/><rect x="261.5" y="639.6" width="6.8" height="63.39999999999998" fill="#862432"/><rect x="270" y="639.6" width="6.8" height="63.39999999999998" fill="#862432"/><rect x="279.2" y="655" width="6.8" height="48" fill="#862432"/><rect x="287.8" y="622.5" width="6.8" height="80.5" fill="#862432"/><rect x="296.3" y="634.5" width="6.9" height="68.5" fill="#862432"/><rect x="304.9" y="612.3" width="6.8" height="90.70000000000005" fill="#b8342a"/><rect x="312.7" y="622.5" width="6.9" height="80.5" fill="#862432"/><rect x="321" y="629.4" width="6.8" height="73.60000000000002" fill="#862432"/><rect x="328.8" y="632.8" width="6.8" height="70.20000000000005" fill="#862432"/><rect x="334.6" y="596.9" width="6.8" height="106.10000000000002" fill="#b8342a"/><rect x="342.5" y="603.7" width="6.8" height="99.29999999999995" fill="#862432"/><rect x="351" y="617.4" width="6.8" height="85.60000000000002" fill="#862432"/><rect x="359.5" y="602" width="6.9" height="101" fill="#862432"/><path d="M94.7,698.4 C97.0,698.9 102.1,704.6 108.4,701.1 C114.7,697.6 124.1,678.6 132.3,677.2 C140.6,675.8 151.9,694.3 157.9,692.6 C163.9,690.9 164.5,670.7 168.2,667.0 C171.9,663.3 176.6,667.1 180.1,670.4 C183.6,673.7 184.9,687.5 189.4,686.8 C193.9,686.1 202.1,666.8 206.8,666.3 C211.5,665.8 214.7,684.5 217.7,684.0 C220.7,683.5 221.5,665.8 224.6,663.5 C227.7,661.2 233.2,666.5 236.5,670.4 C239.8,674.3 241.3,689.4 244.4,686.8 C247.5,684.2 250.6,658.9 255.3,655.0 C260.0,651.1 266.4,668.3 272.4,663.5 C278.4,658.7 286.1,631.4 291.2,626.0 C296.3,620.6 300.1,632.1 303.2,631.0 C306.3,629.9 307.2,618.8 310.0,619.1 C312.8,619.4 316.5,635.4 320.2,632.8 C323.9,630.2 327.6,608.3 332.2,603.7 C336.8,599.1 343.6,602.8 347.6,605.4 C351.6,608.0 352.9,619.7 356.0,619.1 C359.1,618.5 364.7,604.9 366.4,602.0" fill="none" stroke="#f0cca8" stroke-width="1.1"/><line x1="93" y1="703.8" x2="368" y2="703.8" stroke="#2a2e5a" stroke-width="0.9"/></svg><div class="t" style="left:97.5px;top:714px;font-size:3.6px;color:#7a80a8;font-weight:normal;">Pnaa</div><div class="t" style="left:118px;top:714px;font-size:3.6px;color:#7a80a8;font-weight:normal;">Paaa</div><div class="t" style="left:138.5px;top:714px;font-size:3.6px;color:#7a80a8;font-weight:normal;">Auaa</div><div class="t" style="left:159.7px;top:714px;font-size:3.6px;color:#7a80a8;font-weight:normal;">Teaa</div><div class="t" style="left:181.2px;top:714px;font-size:3.6px;color:#7a80a8;font-weight:normal;">Japt</div><div class="t" style="left:202.4px;top:714px;font-size:3.6px;color:#7a80a8;font-weight:normal;">Huaa</div><div class="t" style="left:223.3px;top:714px;font-size:3.6px;color:#7a80a8;font-weight:normal;">Paaa</div><div class="t" style="left:245.2px;top:714px;font-size:3.6px;color:#7a80a8;font-weight:normal;">Daaa</div><div class="t" style="left:267.4px;top:714px;font-size:3.6px;color:#7a80a8;font-weight:normal;">Taaa</div><div class="t" style="left:289.6px;top:714px;font-size:3.6px;color:#7a80a8;font-weight:normal;">Dnaa</div><div class="t" style="left:311.5px;top:714px;font-size:3.6px;color:#7a80a8;font-weight:normal;">Pnaa</div><div class="t" style="left:334.4px;top:714px;font-size:3.6px;color:#7a80a8;font-weight:normal;">Puaa</div><div class="t" style="left:355.5px;top:714px;font-size:3.6px;color:#7a80a8;font-weight:normal;">Paaa</div><div style="left:98px;top:725.8px;width:3px;height:3px;background:#e06030;"></div><div class="t" style="left:102.5px;top:725.8px;font-size:3px;color:#5a6090;font-weight:normal;">Daaaaa</div><div style="left:125.4px;top:725.8px;width:3px;height:3px;background:#3a70c0;"></div><div class="t" style="left:129.9px;top:725.8px;font-size:3px;color:#5a6090;font-weight:normal;">Daaaaa</div><div style="left:148.7px;top:725.8px;width:3px;height:3px;background:#d0a030;"></div><div class="t" style="left:153.2px;top:725.8px;font-size:3px;color:#5a6090;font-weight:normal;">Daaaaa</div><div style="left:176.7px;top:725.8px;width:3px;height:3px;background:#d09040;"></div><div class="t" style="left:181.2px;top:725.8px;font-size:3px;color:#5a6090;font-weight:normal;">Daaaaa</div><div style="left:203.4px;top:725.8px;width:3px;height:3px;background:#c0a060;"></div><div class="t" style="left:207.9px;top:725.8px;font-size:3px;color:#5a6090;font-weight:normal;">Daaaaa</div><div style="left:226.3px;top:725.8px;width:3px;height:3px;background:#d07040;"></div><div class="t" style="left:230.8px;top:725.8px;font-size:3px;color:#5a6090;font-weight:normal;">Daaaaa</div><div style="left:253.6px;top:725.8px;width:3px;height:3px;background:#c09040;"></div><div class="t" style="left:258.1px;top:725.8px;font-size:3px;color:#5a6090;font-weight:normal;">Daaaaa</div><div style="left:282.7px;top:725.8px;width:3px;height:3px;background:#c04040;"></div><div class="t" style="left:287.2px;top:725.8px;font-size:3px;color:#5a6090;font-weight:normal;">Daaaaa</div><div style="left:310px;top:725.8px;width:3px;height:3px;background:#e08030;"></div><div class="t" style="left:314.5px;top:725.8px;font-size:3px;color:#5a6090;font-weight:normal;">Daaaaa</div><div style="left:367px;top:744.5px;width:3px;height:3px;border-top:1px solid #4a5080;border-right:1px solid #4a5080;transform:rotate(45deg);"></div><div style="left:394px;top:527.7px;width:289px;height:228.3px;background:#020124;border:1px solid #15173e;"></div><div style="left:395px;top:555.4px;width:287px;height:1px;background:#1a1c40;"></div><div style="left:428px;top:556px;width:1px;height:199px;background:#151738;"></div><div class="t" style="left:402px;top:536px;font-size:9.5px;color:#e8eaf4;font-weight:bold;letter-spacing:-0.4px;">Cemtry Atmonls</div><div style="left:606.5px;top:538px;width:5px;height:6px;border:1px solid #8a90b0;"></div><div style="left:620.3px;top:531px;width:0.8px;height:20px;background:#1a1c40;"></div><svg class="a" style="left:626.2px;top:536.2px" width="9.6" height="9.6" viewBox="-4.8 -4.8 9.6 9.6"><circle cx="0" cy="0" r="3.8" fill="#0e1a4a" stroke="#5a80c8" stroke-width="0.9"/><path d="M-1.9,1.52 L-0.38,-1.9 L1.14,0.76 L2.09,-1.14" fill="none" stroke="#e0e4f4" stroke-width="0.8"/></svg><div class="t" style="left:641.8px;top:539px;font-size:3.8px;color:#b0b4d0;font-weight:normal;">Renaa  ucz</div><div class="t" style="left:667.5px;top:537px;font-size:6.5px;color:#e09020;font-weight:normal;">21</div><div class="t" style="left:401px;top:563px;font-size:4.5px;color:#6a70a0;font-weight:normal;">&#8249;</div><div style="left:402px;top:578px;width:1.2px;height:19px;background:#1a3060;"></div><div style="left:402px;top:624.6px;width:1.2px;height:20px;background:#1a3060;"></div><div class="t" style="left:414px;top:581.4000000000001px;font-size:4px;color:#a0a6c8;font-weight:normal;">Pnaa</div><div class="t" style="left:414px;top:603.2px;font-size:4px;color:#a0a6c8;font-weight:normal;">Tnaa</div><div class="t" style="left:414px;top:624.4000000000001px;font-size:4px;color:#a0a6c8;font-weight:normal;">Lnaa</div><div class="t" style="left:414px;top:645.4000000000001px;font-size:4px;color:#a0a6c8;font-weight:normal;">Dnaa</div><div class="t" style="left:414px;top:667.5px;font-size:4px;color:#a0a6c8;font-weight:normal;">Tnaa</div><div class="t" style="left:414px;top:689.3000000000001px;font-size:4px;color:#a0a6c8;font-weight:normal;">Dns</div><div class="t" style="left:414px;top:711.5px;font-size:4px;color:#a0a6c8;font-weight:normal;">0</div><div class="t" style="left:432.5px;top:562px;font-size:4.8px;color:#e4e8f6;font-weight:normal;">Dnaaaaa Pgnaaaaaaa</div><div style="left:647px;top:561.5px;width:25.6px;height:7px;background:#1c2246;border-radius:1.5px;"></div><div style="left:662px;top:562.5px;width:9px;height:5px;background:#d8dcf0;border-radius:1px;"></div><div style="left:430.5px;top:570.8px;width:242.5px;height:41.3px;background:#fc6402;border-radius:1px;"></div><div class="t" style="left:434px;top:615.5px;font-size:3px;color:#3a4070;font-weight:normal;">Dnaaaaa</div><div class="t" style="left:432.7px;top:623.5px;font-size:4.2px;color:#c8cce4;font-weight:normal;">Dnaaaaa Daaaaa</div><svg class="a" style="left:430px;top:625px" width="250" height="95" viewBox="430 625 250 95"><line x1="432.7" y1="627.6" x2="432.7" y2="714.4" stroke="#2a2e5a" stroke-width="0.8"/><line x1="432.7" y1="714.6" x2="673" y2="714.6" stroke="#2a2e5a" stroke-width="0.8"/><line x1="433" y1="647.7" x2="436" y2="647.7" stroke="#3a3e6a" stroke-width="0.6"/><line x1="433" y1="669.8" x2="436" y2="669.8" stroke="#3a3e6a" stroke-width="0.6"/><line x1="433" y1="691.6" x2="436" y2="691.6" stroke="#3a3e6a" stroke-width="0.6"/><rect x="445" y="653.8" width="12" height="60.60000000000002" fill="#fca414"/><rect x="458.8" y="662" width="11.7" height="52.39999999999998" fill="#fca414"/><rect x="472" y="664.6" width="12" height="49.799999999999955" fill="#fca414"/><rect x="485" y="669.8" width="12" height="44.60000000000002" fill="#fca414"/><rect x="498.8" y="643" width="11.7" height="71.39999999999998" fill="#fca414"/><rect x="512" y="647" width="11.7" height="67.39999999999998" fill="#fca414"/><rect x="525.6" y="653.8" width="11.4" height="60.60000000000002" fill="#fca414"/><rect x="538.8" y="667" width="11.2" height="47.39999999999998" fill="#fca414"/><rect x="552" y="656.9" width="11.4" height="57.5" fill="#fca414"/><rect x="565.5" y="660" width="11.5" height="54.39999999999998" fill="#fca414"/><rect x="578.8" y="636.9" width="11.7" height="77.5" fill="#fca414"/><rect x="592" y="638.7" width="11.7" height="75.69999999999993" fill="#fca414"/><rect x="605.5" y="651.6" width="11.5" height="62.799999999999955" fill="#fca414"/><rect x="618.8" y="651" width="11.7" height="63.39999999999998" fill="#fca414"/><rect x="632.3" y="642.4" width="11.4" height="72.0" fill="#fca414"/><rect x="645.8" y="656" width="11.2" height="58.39999999999998" fill="#fca414"/><rect x="659" y="644.9" width="11.8" height="69.5" fill="#fca414"/></svg><div class="t" style="left:456.8px;top:721px;font-size:3.4px;color:#6a70a0;font-weight:normal;">2l</div><div class="t" style="left:496.8px;top:721px;font-size:3.4px;color:#6a70a0;font-weight:normal;">l5l</div><div class="t" style="left:536.8px;top:721px;font-size:3.4px;color:#6a70a0;font-weight:normal;">10l</div><div class="t" style="left:576.2px;top:721px;font-size:3.4px;color:#6a70a0;font-weight:normal;">101</div><div class="t" style="left:616.8px;top:721px;font-size:3.4px;color:#6a70a0;font-weight:normal;">l0l</div><div class="t" style="left:656px;top:721px;font-size:3.4px;color:#6a70a0;font-weight:normal;">l1</div><div style="left:401px;top:743.5px;width:5px;height:5px;border:1px solid #6a70a0;border-radius:1px;"></div><div style="left:669.5px;top:744px;width:3px;height:3px;border-top:1px solid #4a5080;border-right:1px solid #4a5080;transform:rotate(45deg);"></div><div style="left:704px;top:500px;width:278px;height:256px;background:#020124;border:1px solid #15173e;border-top:none;"></div><div style="left:705px;top:596px;width:276px;height:0.8px;background:#1a1c40;"></div><div style="left:709px;top:604px;width:1.2px;height:6px;background:#c06a20;"></div><div class="t" style="left:714px;top:604.5px;font-size:5px;color:#c8cce8;font-weight:normal;">Chestilu Haskhhpng</div><div style="left:917px;top:603.5px;width:56px;height:8.5px;background:#1c2246;border:1px solid #2a3060;border-radius:1.5px;"></div><div class="t" style="left:921px;top:606px;font-size:3.2px;color:#8a90b8;font-weight:normal;">Pnaa Daaaa</div><div style="left:950.5px;top:605px;width:9px;height:5.5px;background:#d8dcf0;border-radius:1px;"></div><div style="left:962px;top:605px;width:9px;height:5.5px;background:#e8ecf8;border-radius:1px;"></div><div class="t" style="left:724px;top:617.3px;font-size:3.4px;color:#6a70a0;font-weight:normal;">1265</div><div class="t" style="left:724px;top:632.8px;font-size:3.4px;color:#6a70a0;font-weight:normal;">1000</div><div class="t" style="left:724px;top:648.3px;font-size:3.4px;color:#6a70a0;font-weight:normal;">5465</div><div class="t" style="left:724px;top:664px;font-size:3.4px;color:#6a70a0;font-weight:normal;">5455</div><div class="t" style="left:724px;top:679.5px;font-size:3.4px;color:#6a70a0;font-weight:normal;">1000</div><div class="t" style="left:724px;top:695px;font-size:3.4px;color:#6a70a0;font-weight:normal;">2000</div><div class="t" style="left:724px;top:710.8px;font-size:3.4px;color:#6a70a0;font-weight:normal;">100</div><div class="t" style="left:724px;top:725.6px;font-size:3.4px;color:#6a70a0;font-weight:normal;">0</div><svg class="a" style="left:735px;top:612px" width="245" height="120" viewBox="735 612 245 120"><line x1="741" y1="619.3" x2="972" y2="619.3" stroke="#0a0c30" stroke-width="0.7"/><line x1="741" y1="634.8" x2="972" y2="634.8" stroke="#0a0c30" stroke-width="0.7"/><line x1="741" y1="650.3" x2="972" y2="650.3" stroke="#0a0c30" stroke-width="0.7"/><line x1="741" y1="666" x2="972" y2="666" stroke="#0a0c30" stroke-width="0.7"/><line x1="741" y1="681.5" x2="972" y2="681.5" stroke="#0a0c30" stroke-width="0.7"/><line x1="741" y1="697" x2="972" y2="697" stroke="#0a0c30" stroke-width="0.7"/><line x1="741" y1="712.8" x2="972" y2="712.8" stroke="#0a0c30" stroke-width="0.7"/><line x1="740.3" y1="617" x2="740.3" y2="728" stroke="#1c2048" stroke-width="0.7"/><line x1="740" y1="727.9" x2="972" y2="727.9" stroke="#2a2e5a" stroke-width="0.8"/><defs><linearGradient id="rb" x1="0" y1="0" x2="0" y2="1"><stop offset="0" stop-color="#942836"/><stop offset="1" stop-color="#701c2c"/></linearGradient></defs><rect x="740.3" y="713.8" width="4.3" height="13.900000000000091" fill="url(#rb)"/><rect x="745" y="717.4" width="6.5" height="10.300000000000068" fill="url(#rb)"/><rect x="752.5" y="712.5" width="6.3" height="15.200000000000045" fill="url(#rb)"/><rect x="760.5" y="685.7" width="6.1" height="42.0" fill="url(#rb)"/><rect x="767.8" y="677.9" width="6.2" height="49.80000000000007" fill="url(#rb)"/><rect x="775.7" y="682.8" width="6.1" height="44.90000000000009" fill="url(#rb)"/><rect x="783.2" y="693" width="6.1" height="34.700000000000045" fill="url(#rb)"/><rect x="791" y="695.4" width="6.1" height="32.30000000000007" fill="url(#rb)"/><rect x="798.4" y="672.3" width="6.1" height="55.40000000000009" fill="url(#rb)"/><rect x="805.7" y="676.4" width="6.1" height="51.30000000000007" fill="url(#rb)"/><rect x="813.5" y="682.8" width="6.1" height="44.90000000000009" fill="url(#rb)"/><rect x="820.8" y="689.3" width="6.1" height="38.40000000000009" fill="url(#rb)"/><rect x="828.4" y="679.6" width="6.1" height="48.10000000000002" fill="url(#rb)"/><rect x="835.7" y="683.2" width="6.1" height="44.5" fill="url(#rb)"/><rect x="843" y="688.1" width="6.1" height="39.60000000000002" fill="url(#rb)"/><rect x="850.4" y="693" width="6.1" height="34.700000000000045" fill="url(#rb)"/><rect x="857.7" y="684.5" width="6.1" height="43.200000000000045" fill="url(#rb)"/><rect x="864.3" y="660.8" width="6.1" height="66.90000000000009" fill="url(#rb)"/><rect x="871.6" y="665" width="6.1" height="62.700000000000045" fill="url(#rb)"/><rect x="879.4" y="674.7" width="6.1" height="53.0" fill="url(#rb)"/><rect x="887.5" y="665" width="6.1" height="62.700000000000045" fill="url(#rb)"/><rect x="895.3" y="654.7" width="6.1" height="73.0" fill="url(#rb)"/><rect x="902.9" y="682.8" width="6.1" height="44.90000000000009" fill="url(#rb)"/><rect x="910.2" y="645.4" width="6.1" height="82.30000000000007" fill="url(#rb)"/><rect x="918" y="638.8" width="6.1" height="88.90000000000009" fill="url(#rb)"/><rect x="925.3" y="634.9" width="6.1" height="92.80000000000007" fill="url(#rb)"/><rect x="933.1" y="648.6" width="6.1" height="79.10000000000002" fill="url(#rb)"/><rect x="940.7" y="629.5" width="6.1" height="98.20000000000005" fill="url(#rb)"/><rect x="948" y="636.4" width="6.1" height="91.30000000000007" fill="url(#rb)"/><rect x="955.8" y="641.7" width="6.1" height="86.0" fill="url(#rb)"/><rect x="963.6" y="625.1" width="6.9" height="102.60000000000002" fill="url(#rb)"/><path d="M740.3,715.0 C741.8,715.4 747.0,717.8 749.5,717.4 C752.0,717.0 753.8,715.8 755.6,712.5 C757.4,709.2 758.9,701.2 760.5,697.9 C762.1,694.6 763.6,692.9 765.4,692.5 C767.2,692.1 769.3,693.1 771.5,695.4 C773.7,697.7 776.1,706.8 778.8,706.4 C781.4,706.0 785.1,694.6 787.4,693.0 C789.6,691.4 790.1,700.0 792.3,696.7 C794.5,693.4 798.6,675.6 800.8,673.0 C803.0,670.4 804.1,679.9 805.7,680.8 C807.3,681.7 808.6,674.7 810.6,678.4 C812.6,682.1 815.7,701.2 817.9,702.8 C820.1,704.4 821.6,691.4 824.0,688.1 C826.4,684.8 829.5,682.4 832.5,683.2 C835.5,684.0 839.8,692.2 842.3,693.0 C844.8,693.8 845.2,688.1 847.2,688.1 C849.2,688.1 851.6,696.6 854.5,693.0 C857.4,689.4 861.6,670.3 864.3,666.2 C866.9,662.1 868.4,668.4 870.4,668.6 C872.4,668.8 873.5,663.3 876.5,667.4 C879.5,671.5 885.5,691.0 888.7,693.0 C892.0,695.0 893.1,681.2 896.0,679.6 C898.9,678.0 903.1,686.7 905.8,683.2 C908.4,679.7 909.9,664.1 911.9,658.8 C913.9,653.5 915.4,655.5 918.0,651.5 C920.6,647.5 924.3,635.3 927.8,635.1 C931.2,634.9 935.9,651.2 938.7,650.3 C941.5,649.4 943.0,632.1 944.8,629.5 C946.6,626.9 947.2,632.1 949.7,634.4 C952.2,636.6 956.2,644.5 959.5,643.0 C962.8,641.5 967.7,628.1 969.3,625.1" fill="none" stroke="#f0c49c" stroke-width="1.1"/></svg><div class="t" style="left:743px;top:735.5px;font-size:3.6px;color:#6a70a0;font-weight:normal;">Ptay</div><div class="t" style="left:766.3px;top:735.5px;font-size:3.6px;color:#6a70a0;font-weight:normal;">Jnna</div><div class="t" style="left:790.7px;top:735.5px;font-size:3.6px;color:#6a70a0;font-weight:normal;">Paqy</div><div class="t" style="left:813.9px;top:735.5px;font-size:3.6px;color:#6a70a0;font-weight:normal;">Laas</div><div class="t" style="left:837.8px;top:735.5px;font-size:3.6px;color:#6a70a0;font-weight:normal;">Pasd</div><div class="t" style="left:862.2px;top:735.5px;font-size:3.6px;color:#6a70a0;font-weight:normal;">Lhay</div><div class="t" style="left:885.9px;top:735.5px;font-size:3.6px;color:#6a70a0;font-weight:normal;">Pasq</div><div class="t" style="left:909.6px;top:735.5px;font-size:3.6px;color:#6a70a0;font-weight:normal;">Lirsi</div><div class="t" style="left:933.5px;top:735.5px;font-size:3.6px;color:#6a70a0;font-weight:normal;">Raas</div><div class="t" style="left:958px;top:735.5px;font-size:3.6px;color:#6a70a0;font-weight:normal;">Posa</div><div style="left:709px;top:739px;width:5px;height:5px;border:1px solid #5a6090;border-radius:1px;"></div><div style="left:704.7px;top:444px;width:273.3px;height:142.5px;background:#c4c7d7;box-shadow:0 0 3px rgba(0,0,0,0.4);"></div><div style="left:704.7px;top:444px;width:273.3px;height:20.6px;background:#ffffff;"></div><div class="t" style="left:711.5px;top:449.5px;font-size:8.3px;color:#14162a;font-weight:bold;letter-spacing:-0.3px;">Idlk Tinpap</div><div class="t" style="left:814px;top:452.5px;font-size:3.6px;color:#303448;font-weight:normal;">Doaaa</div><div class="t" style="left:833.6px;top:452.5px;font-size:3.6px;color:#303448;font-weight:normal;">Tnn</div><div class="t" style="left:846.5px;top:452.5px;font-size:3.6px;color:#3a70c0;font-weight:normal;">Lnaaa</div><div class="t" style="left:864px;top:452.5px;font-size:3.6px;color:#303448;font-weight:normal;">Ebaaaaaa</div><div style="left:940px;top:449.5px;width:32px;height:9.5px;border:1px solid #d0d4e0;border-radius:2px;background:#f6f8fc;"></div><div style="left:943.5px;top:452px;width:5px;height:4px;background:#3a80d0;border-radius:1px;"></div><div class="t" style="left:952px;top:452.5px;font-size:3.4px;color:#505468;font-weight:normal;">Nns  &#8250;</div><div style="left:792.3px;top:474.3px;width:45px;height:10.7px;border:1px solid #a8acbc;border-radius:1.5px;"></div><div class="t" style="left:797px;top:477.5px;font-size:3.4px;color:#505468;font-weight:normal;">Nnaa Taaa  Aaa</div><div style="left:856px;top:476.5px;width:6px;height:0.9px;background:#1e2a70;"></div><div class="t" style="left:864px;top:475px;font-size:3.4px;color:#404458;font-weight:normal;">Rnaa + Dnaaaa</div><div style="left:919.6px;top:474.3px;width:50px;height:12.3px;border:1px solid #a8acbc;border-radius:1.5px;"></div><div class="t" style="left:924px;top:478px;font-size:3.6px;color:#303448;font-weight:normal;">Tnaaaaaa</div><div style="left:951px;top:475px;width:0.8px;height:11px;background:#a8acbc;"></div><div class="t" style="left:959px;top:477px;font-size:4px;color:#404458;font-weight:normal;">&#9650;</div><svg class="a" style="left:705px;top:465px" width="273" height="121" viewBox="705 465 273 121"><line x1="732" y1="484" x2="974" y2="484" stroke="#b8bacb" stroke-width="0.6"/><line x1="732" y1="496.9" x2="974" y2="496.9" stroke="#b8bacb" stroke-width="0.6"/><line x1="732" y1="510" x2="974" y2="510" stroke="#b8bacb" stroke-width="0.6"/><line x1="732" y1="522.7" x2="974" y2="522.7" stroke="#b8bacb" stroke-width="0.6"/><line x1="732" y1="536.5" x2="974" y2="536.5" stroke="#b8bacb" stroke-width="0.6"/><line x1="732" y1="549.4" x2="974" y2="549.4" stroke="#b8bacb" stroke-width="0.6"/><line x1="732" y1="480" x2="732" y2="563" stroke="#b4b6c8" stroke-width="0.6"/><line x1="732" y1="563" x2="974" y2="563" stroke="#a8aabf" stroke-width="0.7"/><rect x="740" y="560" width="6.6" height="3" fill="#6e3080"/><rect x="758.8" y="556.8" width="9.7" height="6.2000000000000455" fill="#6e3080"/><rect x="780" y="555.8" width="8.8" height="7.2000000000000455" fill="#6e3080"/><rect x="800.4" y="555.2" width="9.3" height="7.7999999999999545" fill="#6e3080"/><rect x="822.3" y="552" width="9.3" height="11" fill="#6e3080"/><rect x="843.9" y="551.3" width="9.3" height="11.700000000000045" fill="#6e3080"/><rect x="865.5" y="548" width="9.5" height="15" fill="#6e3080"/><rect x="888.4" y="556.8" width="8.6" height="6.2000000000000455" fill="#6e3080"/><rect x="909.3" y="539.7" width="9.3" height="23.299999999999955" fill="#6e3080"/><rect x="931.9" y="527.8" width="9" height="35.200000000000045" fill="#6e3080"/><rect x="953.8" y="508" width="9" height="55" fill="#6e3080"/><path d="M743.3,554.9 L759.5,546.2 L772.3,535 L783.6,529.4 L803,519.4 L814.2,515 L824,515 L828.7,509.8 L838.4,516.5 L844.9,504.3 L853.6,489.8 L861,507.5 L867.4,519.4 L872.9,533.3 L888.4,532.3 L898,535.5 L911,540.7 L918.3,539.7" fill="none" stroke="#1e2a78" stroke-width="1.3" stroke-linejoin="round"/><circle cx="743.3" cy="554.9" r="1.5" fill="#1e2a78"/><circle cx="918.3" cy="539.7" r="1.5" fill="#1e2a78"/></svg><div class="t" style="left:718px;top:481.7px;font-size:4px;color:#404458;font-weight:normal;">Fnl</div><div class="t" style="left:718px;top:494.59999999999997px;font-size:4px;color:#404458;font-weight:normal;">1nn</div><div class="t" style="left:718px;top:507.7px;font-size:4px;color:#404458;font-weight:normal;">5nn</div><div class="t" style="left:718px;top:520.4000000000001px;font-size:4px;color:#404458;font-weight:normal;">2nn</div><div class="t" style="left:718px;top:534.2px;font-size:4px;color:#404458;font-weight:normal;">1nn</div><div class="t" style="left:718px;top:547.1px;font-size:4px;color:#404458;font-weight:normal;">5n</div><div class="t" style="left:718px;top:560.0px;font-size:4px;color:#404458;font-weight:normal;">0</div><div class="t" style="left:742px;top:570px;font-size:3.8px;color:#2a2e42;font-weight:normal;">Mhl</div><div class="t" style="left:744px;top:575px;font-size:3px;color:#40445a;font-weight:normal;">nl</div><div class="t" style="left:760px;top:570px;font-size:3.8px;color:#2a2e42;font-weight:normal;">Tnr</div><div class="t" style="left:781px;top:570px;font-size:3.8px;color:#2a2e42;font-weight:normal;">Tnp</div><div class="t" style="left:801px;top:570px;font-size:3.8px;color:#2a2e42;font-weight:normal;">Tnsd</div><div class="t" style="left:823px;top:570px;font-size:3.8px;color:#2a2e42;font-weight:normal;">Tnsd</div><div class="t" style="left:825px;top:575px;font-size:3px;color:#40445a;font-weight:normal;">al</div><div class="t" style="left:844.5px;top:570px;font-size:3.8px;color:#2a2e42;font-weight:normal;">Pnsd</div><div class="t" style="left:866px;top:570px;font-size:3.8px;color:#2a2e42;font-weight:normal;">Lnd</div><div class="t" style="left:868px;top:575px;font-size:3px;color:#40445a;font-weight:normal;">nd</div><div class="t" style="left:889px;top:570px;font-size:3.8px;color:#2a2e42;font-weight:normal;">Dnr</div><div class="t" style="left:891px;top:575px;font-size:3px;color:#40445a;font-weight:normal;">nnnn</div><div class="t" style="left:910px;top:570px;font-size:3.8px;color:#2a2e42;font-weight:normal;">Tnl</div><div class="t" style="left:932px;top:570px;font-size:3.8px;color:#2a2e42;font-weight:normal;">Nnn</div><div class="t" style="left:934px;top:575px;font-size:3px;color:#40445a;font-weight:normal;">nl</div><div class="t" style="left:954px;top:570px;font-size:3.8px;color:#2a2e42;font-weight:normal;">Nnn</div><div class="t" style="left:956px;top:575px;font-size:3px;color:#40445a;font-weight:normal;">nh</div><div style="left:51px;top:960px;width:304px;height:32px;background:#0b0c2c;"></div><div style="left:52.9px;top:784.5px;width:303.6px;height:198px;background:#ffffff;"></div><div style="left:52.9px;top:807px;width:303.6px;height:0.8px;background:#e6e8ee;"></div><div class="t" style="left:60px;top:791px;font-size:8.5px;color:#16182a;font-weight:bold;letter-spacing:-0.4px;">Contlulear Eeroes</div><div class="t" style="left:279.5px;top:793px;font-size:5px;color:#303448;font-weight:normal;">&#187;</div><div class="t" style="left:296px;top:791.5px;font-size:6px;color:#303448;font-weight:normal;">&#8869;</div><div style="left:310px;top:791.5px;width:8.5px;height:8.5px;border:1.2px solid #303448;border-radius:50%;"></div><div style="left:324px;top:791px;width:27px;height:11px;background:#1e56a8;border-radius:1.5px;"></div><div class="t" style="left:328px;top:794.5px;font-size:3.8px;color:#d8e4f8;font-weight:normal;">Pnaa Daa</div><div style="left:54.8px;top:824.8px;width:1.6px;height:22.5px;background:#b8c4d8;"></div><svg class="a" style="left:80px;top:812px" width="272" height="132" viewBox="80 812 272 132"><line x1="83.5" y1="815" x2="83.5" y2="941" stroke="#e8eaf0" stroke-width="0.6"/><line x1="110.0" y1="815" x2="110.0" y2="941" stroke="#e8eaf0" stroke-width="0.6"/><line x1="136.5" y1="815" x2="136.5" y2="941" stroke="#e8eaf0" stroke-width="0.6"/><line x1="163.0" y1="815" x2="163.0" y2="941" stroke="#e8eaf0" stroke-width="0.6"/><line x1="189.5" y1="815" x2="189.5" y2="941" stroke="#e8eaf0" stroke-width="0.6"/><line x1="216.0" y1="815" x2="216.0" y2="941" stroke="#e8eaf0" stroke-width="0.6"/><line x1="242.5" y1="815" x2="242.5" y2="941" stroke="#e8eaf0" stroke-width="0.6"/><line x1="269.0" y1="815" x2="269.0" y2="941" stroke="#e8eaf0" stroke-width="0.6"/><line x1="295.5" y1="815" x2="295.5" y2="941" stroke="#e8eaf0" stroke-width="0.6"/><line x1="322.0" y1="815" x2="322.0" y2="941" stroke="#e8eaf0" stroke-width="0.6"/><line x1="348.5" y1="815" x2="348.5" y2="941" stroke="#e8eaf0" stroke-width="0.6"/><line x1="83.5" y1="815.0" x2="349" y2="815.0" stroke="#e8eaf0" stroke-width="0.6"/><line x1="83.5" y1="828.6" x2="349" y2="828.6" stroke="#e8eaf0" stroke-width="0.6"/><line x1="83.5" y1="842.2" x2="349" y2="842.2" stroke="#e8eaf0" stroke-width="0.6"/><line x1="83.5" y1="855.8" x2="349" y2="855.8" stroke="#e8eaf0" stroke-width="0.6"/><line x1="83.5" y1="869.4" x2="349" y2="869.4" stroke="#e8eaf0" stroke-width="0.6"/><line x1="83.5" y1="883.0" x2="349" y2="883.0" stroke="#e8eaf0" stroke-width="0.6"/><line x1="83.5" y1="896.6" x2="349" y2="896.6" stroke="#e8eaf0" stroke-width="0.6"/><line x1="83.5" y1="910.2" x2="349" y2="910.2" stroke="#e8eaf0" stroke-width="0.6"/><line x1="83.5" y1="923.8" x2="349" y2="923.8" stroke="#e8eaf0" stroke-width="0.6"/><line x1="83.5" y1="937.4" x2="349" y2="937.4" stroke="#e8eaf0" stroke-width="0.6"/><path d="M83.5,890.8 C86.4,887.4 95.2,872.3 101.0,870.5 C106.8,868.7 112.6,876.6 118.0,880.0 C123.4,883.4 128.5,890.8 133.5,890.8 C138.5,890.8 143.2,884.8 148.0,880.0 C152.8,875.2 158.3,863.5 162.5,861.8 C166.7,860.1 169.5,866.0 173.0,870.0 C176.5,874.0 179.6,885.7 183.4,886.0 C187.2,886.3 192.0,876.1 196.0,872.0 C200.0,867.9 203.6,860.7 207.6,861.2 C211.6,861.7 215.7,869.5 220.0,875.0 C224.3,880.5 229.7,891.8 233.4,894.0 C237.1,896.2 239.1,889.9 242.0,888.0 C244.9,886.1 247.1,882.2 251.0,882.8 C254.9,883.4 259.9,891.4 265.6,891.8 C271.3,892.2 278.0,884.4 285.0,885.0 C292.0,885.6 301.7,896.2 307.5,895.7 C313.3,895.2 315.7,887.3 320.0,882.0 C324.3,876.7 329.6,866.3 333.3,864.0 C337.0,861.7 339.4,865.2 342.0,868.0 C344.6,870.8 347.6,878.8 348.7,881.0 L348.7,941 L83.5,941 Z" fill="#f8930f"/><path d="M83.5,890.8 C86.4,887.4 95.2,872.3 101.0,870.5 C106.8,868.7 112.6,876.6 118.0,880.0 C123.4,883.4 128.5,890.8 133.5,890.8 C138.5,890.8 143.2,884.8 148.0,880.0 C152.8,875.2 158.3,863.5 162.5,861.8 C166.7,860.1 169.5,866.0 173.0,870.0 C176.5,874.0 179.6,885.7 183.4,886.0 C187.2,886.3 192.0,876.1 196.0,872.0 C200.0,867.9 203.6,860.7 207.6,861.2 C211.6,861.7 215.7,869.5 220.0,875.0 C224.3,880.5 229.7,891.8 233.4,894.0 C237.1,896.2 239.1,889.9 242.0,888.0 C244.9,886.1 247.1,882.2 251.0,882.8 C254.9,883.4 259.9,891.4 265.6,891.8 C271.3,892.2 278.0,884.4 285.0,885.0 C292.0,885.6 301.7,896.2 307.5,895.7 C313.3,895.2 315.7,887.3 320.0,882.0 C324.3,876.7 329.6,866.3 333.3,864.0 C337.0,861.7 339.4,865.2 342.0,868.0 C344.6,870.8 347.6,878.8 348.7,881.0" fill="none" stroke="#e48212" stroke-width="0.8"/><path d="M83.5,908.6 C86.4,906.8 95.2,898.4 101.0,898.0 C106.8,897.6 112.6,902.7 118.0,906.0 C123.4,909.3 128.5,917.7 133.5,918.0 C138.5,918.3 143.2,911.5 148.0,908.0 C152.8,904.5 158.0,898.1 162.5,897.3 C167.0,896.5 171.2,900.9 175.0,903.0 C178.8,905.1 181.5,910.8 185.0,910.0 C188.5,909.2 192.2,901.7 196.0,898.0 C199.8,894.3 203.6,887.6 207.6,887.6 C211.6,887.6 215.2,892.4 220.0,898.0 C224.8,903.6 231.6,918.3 236.6,921.5 C241.6,924.7 244.4,918.2 250.0,917.0 C255.6,915.8 263.3,914.8 270.0,914.0 C276.7,913.2 283.3,913.0 290.0,912.0 C296.7,911.0 304.2,910.3 310.0,908.0 C315.8,905.7 320.1,900.3 325.0,898.0 C329.9,895.7 335.8,894.2 339.7,894.0 C343.6,893.8 347.2,896.5 348.7,897.0 L348.7,941 L83.5,941 Z" fill="#f06d1a"/><defs><linearGradient id="l8" x1="0" y1="0" x2="0" y2="1"><stop offset="0" stop-color="#ec601a"/><stop offset="1" stop-color="#e2521a"/></linearGradient></defs><path d="M83.5,918.0 C86.4,917.3 95.2,914.0 101.0,914.0 C106.8,914.0 112.6,916.3 118.0,918.0 C123.4,919.7 126.5,923.3 133.5,924.0 C140.5,924.7 151.4,922.5 160.0,922.0 C168.6,921.5 177.1,921.7 185.0,921.0 C192.9,920.3 199.0,917.2 207.6,918.0 C216.2,918.8 226.2,924.8 236.6,926.0 C247.0,927.2 259.4,925.3 270.0,925.0 C280.6,924.7 290.8,924.8 300.0,924.0 C309.2,923.2 316.9,921.2 325.0,920.0 C333.1,918.8 344.8,917.5 348.7,917.0 L348.7,941 L83.5,941 Z" fill="url(#l8)"/></svg><div class="t" style="left:62.5px;top:825.4px;font-size:5px;color:#3a3e52;font-weight:normal;letter-spacing:-0.2px;">20000</div><div class="t" style="left:62.5px;top:838.4px;font-size:5px;color:#3a3e52;font-weight:normal;letter-spacing:-0.2px;">10000</div><div class="t" style="left:62.5px;top:851.8px;font-size:5px;color:#3a3e52;font-weight:normal;letter-spacing:-0.2px;">15000</div><div class="t" style="left:62.5px;top:864.1px;font-size:5px;color:#3a3e52;font-weight:normal;letter-spacing:-0.2px;">40005</div><div class="t" style="left:62.5px;top:877.9px;font-size:5px;color:#3a3e52;font-weight:normal;letter-spacing:-0.2px;">50000</div><div class="t" style="left:62.5px;top:892.1px;font-size:5px;color:#3a3e52;font-weight:normal;letter-spacing:-0.2px;">10000</div><div class="t" style="left:62.5px;top:906.6px;font-size:5px;color:#3a3e52;font-weight:normal;letter-spacing:-0.2px;">10000</div><div class="t" style="left:62.5px;top:920.4px;font-size:5px;color:#3a3e52;font-weight:normal;letter-spacing:-0.2px;">10000</div><div class="t" style="left:62.5px;top:935.0px;font-size:5px;color:#3a3e52;font-weight:normal;letter-spacing:-0.2px;">10000</div><div style="left:290.7px;top:818.3px;width:38.7px;height:12.9px;background:#fff;border:1px solid #dcdee6;border-radius:1.5px;"></div><div style="left:294px;top:822.5px;width:5px;height:4px;background:#e07a30;border-radius:1px;"></div><div class="t" style="left:302px;top:822.5px;font-size:3.8px;color:#303448;font-weight:normal;">Daaaa  Tn</div><div style="left:331.7px;top:818.3px;width:16.1px;height:12.9px;background:#fff;border:1px solid #dcdee6;border-radius:1.5px;"></div><div class="t" style="left:335.5px;top:821px;font-size:5px;color:#303448;font-weight:normal;">&#9650;</div><div style="left:83.7px;top:941.5px;width:265px;height:16px;background:#0a0a30;"></div><div class="t" style="left:83.7px;top:946.5px;font-size:3.4px;color:#8a90b8;font-weight:normal;">Pns</div><div class="t" style="left:104.7px;top:946.5px;font-size:3.4px;color:#8a90b8;font-weight:normal;">Daas</div><div class="t" style="left:127.9px;top:946.5px;font-size:3.4px;color:#8a90b8;font-weight:normal;">Dnas</div><div class="t" style="left:150.4px;top:946.5px;font-size:3.4px;color:#8a90b8;font-weight:normal;">Pa2s</div><div class="t" style="left:174.6px;top:946.5px;font-size:3.4px;color:#8a90b8;font-weight:normal;">Tn2s</div><div class="t" style="left:198px;top:946.5px;font-size:3.4px;color:#8a90b8;font-weight:normal;">Ynds</div><div class="t" style="left:220px;top:946.5px;font-size:3.4px;color:#8a90b8;font-weight:normal;">Daap</div><div class="t" style="left:243.3px;top:946.5px;font-size:3.4px;color:#8a90b8;font-weight:normal;">Dnas</div><div class="t" style="left:265.8px;top:946.5px;font-size:3.4px;color:#8a90b8;font-weight:normal;">Pnsa</div><div class="t" style="left:285.8px;top:946.5px;font-size:3.4px;color:#8a90b8;font-weight:normal;">Daap</div><div class="t" style="left:307.7px;top:946.5px;font-size:3.4px;color:#8a90b8;font-weight:normal;">Dnsa</div><div class="t" style="left:328.6px;top:946.5px;font-size:3.4px;color:#8a90b8;font-weight:normal;">Pnsa</div><div style="left:83.7px;top:957.5px;width:265px;height:5.5px;background:linear-gradient(180deg,#48aabb,#4a9a90);"></div><div style="left:83.7px;top:963px;width:265px;height:5.4px;background:#f4a020;"></div><div style="left:83.7px;top:968.4px;width:265px;height:4px;background:#0a0a30;"></div><div class="t" style="left:84.5px;top:975.5px;font-size:3.4px;color:#808498;font-weight:normal;">.</div><div class="t" style="left:125px;top:975.5px;font-size:3.4px;color:#808498;font-weight:normal;">.</div><div class="t" style="left:162px;top:975.5px;font-size:3.4px;color:#808498;font-weight:normal;">.</div><div class="t" style="left:190px;top:975.5px;font-size:3.4px;color:#808498;font-weight:normal;">.</div><div class="t" style="left:217px;top:975.5px;font-size:3.4px;color:#808498;font-weight:normal;">.</div><div class="t" style="left:243px;top:975.5px;font-size:3.4px;color:#808498;font-weight:normal;">.</div><div class="t" style="left:268px;top:975.5px;font-size:3.4px;color:#808498;font-weight:normal;">.</div><div class="t" style="left:300px;top:975.5px;font-size:3.4px;color:#808498;font-weight:normal;">.</div><div class="t" style="left:325px;top:975.5px;font-size:3.4px;color:#808498;font-weight:normal;">.</div><div style="left:386px;top:779.4px;width:278.5px;height:211.6px;background:#020124;border:1px solid #15173e;"></div><div style="left:387.7px;top:805.7px;width:275.8px;height:1px;background:#1a1c40;"></div><div class="t" style="left:395.5px;top:788.3px;font-size:9px;color:#eceef6;font-weight:bold;letter-spacing:-0.4px;"><span style="color:#e8a020">C</span>leinty Fonsy Fusck</div><svg class="a" style="left:600.5px;top:788.5px" width="6.5" height="6.5" viewBox="0 0 6.5 6.5"><circle cx="2.73" cy="2.73" r="2.34" fill="none" stroke="#7a80a8" stroke-width="0.8"/><line x1="4.42" y1="4.42" x2="6.175" y2="6.175" stroke="#7a80a8" stroke-width="0.9"/></svg><div style="left:614.7px;top:783px;width:0.8px;height:18px;background:#1a1c40;"></div><svg class="a" style="left:620.2px;top:787.2px" width="9.6" height="9.6" viewBox="-4.8 -4.8 9.6 9.6"><circle cx="0" cy="0" r="3.8" fill="#121a44" stroke="#c8cce0" stroke-width="0.9"/><path d="M-1.9,1.52 L-0.38,-1.9 L1.14,0.76 L2.09,-1.14" fill="none" stroke="#e0e4f4" stroke-width="0.8"/></svg><div class="t" style="left:637px;top:790px;font-size:4px;color:#b0b4d0;font-weight:normal;">CCL</div><div class="t" style="left:649px;top:788.5px;font-size:5.5px;color:#d06a30;font-weight:normal;">37</div><div style="left:393px;top:815.4px;width:1px;height:3px;background:#c06a30;"></div><div style="left:393px;top:820px;width:1px;height:2.5px;background:#c06a30;"></div><div class="t" style="left:397.9px;top:815.2px;font-size:5px;color:#d8dcee;font-weight:normal;letter-spacing:-0.1px;">Rnaaaaa Daaaa Iaaaaaa</div><div class="t" style="left:416px;top:839.5999999999999px;font-size:3.8px;color:#9aa0c4;font-weight:normal;">Pnn</div><div class="t" style="left:416px;top:860.0999999999999px;font-size:3.8px;color:#9aa0c4;font-weight:normal;">Tnnn</div><div class="t" style="left:416px;top:880.0px;font-size:3.8px;color:#9aa0c4;font-weight:normal;">Dnnn</div><div class="t" style="left:416px;top:899.5999999999999px;font-size:3.8px;color:#9aa0c4;font-weight:normal;">Anns</div><div class="t" style="left:416px;top:920.1999999999999px;font-size:3.8px;color:#9aa0c4;font-weight:normal;">Tnnn</div><div class="t" style="left:416px;top:940.6999999999999px;font-size:3.8px;color:#9aa0c4;font-weight:normal;">Pns</div><svg class="a" style="left:450px;top:835px" width="190" height="120" viewBox="450 835 190 120"><path d="M511.00,838.00 A56.6,56.6 0 0 1 528.49,948.43 L520.95,925.22 A32.2,32.2 0 0 0 511.00,862.40 Z" fill="#6e9ade"/><path d="M528.49,948.43 A56.6,56.6 0 1 1 511.00,838.00 L511.00,862.40 A32.2,32.2 0 1 0 520.95,925.22 Z" fill="#3a86dc"/><path d="M511,862.6 A32,32 0 0 1 527,866.8" fill="none" stroke="#e07a40" stroke-width="1"/><rect x="595.8" y="844.6" width="10" height="105" fill="#141c44"/><rect x="608" y="844.6" width="10" height="105" fill="#141c44"/><rect x="620.2" y="844.6" width="10" height="105" fill="#141c44"/><rect x="596.4" y="866.7" width="8.8" height="82.8" fill="#ff6a10"/><rect x="608" y="875.9" width="9.5" height="73.6" fill="#df4628"/><rect x="622" y="891.5" width="8.5" height="58" fill="#bad43a"/></svg><div style="left:596.6px;top:819.8px;width:4px;height:3.5px;background:#e0783a;border-radius:0.8px;"></div><div class="t" style="left:603.5px;top:819.5px;font-size:3.6px;color:#c8cce8;font-weight:normal;">Dnaaaa &#8211; Daaaaa</div><div class="t" style="left:606px;top:826.5px;font-size:2.8px;color:#5a6090;font-weight:normal;">aaaaa</div><div style="left:597px;top:832px;width:4px;height:4px;background:#e06a40;border-radius:50%;"></div><div class="t" style="left:604px;top:832.3px;font-size:3.6px;color:#c8cce8;font-weight:normal;">Rnaaaa Tnaa</div><div class="t" style="left:599.5px;top:951.5px;font-size:3.4px;color:#6a70a0;font-weight:normal;">1</div><div class="t" style="left:611px;top:951.5px;font-size:3.4px;color:#6a70a0;font-weight:normal;">1l</div><div class="t" style="left:622.5px;top:951.5px;font-size:3.4px;color:#6a70a0;font-weight:normal;">1a</div><div class="t" style="left:634px;top:951.5px;font-size:3.4px;color:#6a70a0;font-weight:normal;">&#9675;</div><div style="left:395.5px;top:978px;width:5px;height:5px;border:1px solid #6a70a0;border-radius:50%;"></div><div style="left:650.5px;top:978.5px;width:3px;height:3px;border-top:1px solid #4a5080;border-right:1px solid #4a5080;transform:rotate(45deg);"></div><div style="left:678.75px;top:785px;width:299px;height:207px;background:#ffffff;"></div><div style="left:678.75px;top:807.5px;width:299px;height:0.8px;background:#e6e8ee;"></div><div class="t" style="left:685.6px;top:791.5px;font-size:8.2px;color:#16182a;font-weight:bold;letter-spacing:-0.4px;">Emmtulalr Recoce</div><div class="t" style="left:916.5px;top:793px;font-size:5px;color:#303448;font-weight:normal;">&#187;</div><div style="left:931px;top:792px;width:8px;height:8px;border:1.2px solid #303448;border-radius:50%;"></div><div style="left:944.4px;top:790.6px;width:27.8px;height:11.3px;background:#1e56a8;border-radius:1.5px;"></div><div class="t" style="left:948.5px;top:794.5px;font-size:3.8px;color:#d8e4f8;font-weight:normal;">Pnaaaaaa</div><svg class="a" style="left:690px;top:810px" width="285" height="134" viewBox="690 810 285 134"><line x1="695.0" y1="813.7" x2="695.0" y2="941" stroke="#e8eaf0" stroke-width="0.6"/><line x1="725.3" y1="813.7" x2="725.3" y2="941" stroke="#e8eaf0" stroke-width="0.6"/><line x1="755.6" y1="813.7" x2="755.6" y2="941" stroke="#e8eaf0" stroke-width="0.6"/><line x1="785.9" y1="813.7" x2="785.9" y2="941" stroke="#e8eaf0" stroke-width="0.6"/><line x1="816.2" y1="813.7" x2="816.2" y2="941" stroke="#e8eaf0" stroke-width="0.6"/><line x1="846.5" y1="813.7" x2="846.5" y2="941" stroke="#e8eaf0" stroke-width="0.6"/><line x1="876.8" y1="813.7" x2="876.8" y2="941" stroke="#e8eaf0" stroke-width="0.6"/><line x1="907.1" y1="813.7" x2="907.1" y2="941" stroke="#e8eaf0" stroke-width="0.6"/><line x1="937.4" y1="813.7" x2="937.4" y2="941" stroke="#e8eaf0" stroke-width="0.6"/><line x1="967.7" y1="813.7" x2="967.7" y2="941" stroke="#e8eaf0" stroke-width="0.6"/><line x1="695" y1="813.7" x2="970" y2="813.7" stroke="#e8eaf0" stroke-width="0.6"/><line x1="695" y1="827.5" x2="970" y2="827.5" stroke="#e8eaf0" stroke-width="0.6"/><line x1="695" y1="841.3000000000001" x2="970" y2="841.3000000000001" stroke="#e8eaf0" stroke-width="0.6"/><line x1="695" y1="855.1" x2="970" y2="855.1" stroke="#e8eaf0" stroke-width="0.6"/><line x1="695" y1="868.9000000000001" x2="970" y2="868.9000000000001" stroke="#e8eaf0" stroke-width="0.6"/><line x1="695" y1="882.7" x2="970" y2="882.7" stroke="#e8eaf0" stroke-width="0.6"/><line x1="695" y1="896.5" x2="970" y2="896.5" stroke="#e8eaf0" stroke-width="0.6"/><line x1="695" y1="910.3000000000001" x2="970" y2="910.3000000000001" stroke="#e8eaf0" stroke-width="0.6"/><line x1="695" y1="924.1" x2="970" y2="924.1" stroke="#e8eaf0" stroke-width="0.6"/><line x1="695" y1="937.9000000000001" x2="970" y2="937.9000000000001" stroke="#e8eaf0" stroke-width="0.6"/><path d="M695.0,895.0 C697.6,890.0 705.6,867.2 710.6,864.7 C715.6,862.2 720.0,873.4 725.0,880.0 C730.0,886.6 735.3,902.7 740.3,904.4 C745.3,906.1 750.3,894.4 755.0,890.0 C759.7,885.6 764.2,878.1 768.4,877.8 C772.6,877.5 775.6,881.2 780.0,888.0 C784.4,894.8 790.8,915.6 795.0,918.4 C799.2,921.2 801.4,909.9 805.0,905.0 C808.6,900.1 811.5,897.6 816.9,888.8 C822.3,879.9 830.4,855.0 837.2,851.9 C844.0,848.8 851.7,865.3 857.5,870.0 C863.3,874.7 866.8,876.4 872.0,880.0 C877.2,883.6 884.1,891.2 888.8,891.9 C893.4,892.6 895.8,887.1 900.0,884.0 C904.2,880.9 908.6,876.5 913.8,873.0 C918.9,869.5 925.8,862.5 931.0,862.8 C936.2,863.1 940.5,875.2 945.0,874.7 C949.5,874.2 953.8,863.5 958.0,860.0 C962.2,856.5 968.0,854.8 970.0,853.8 L970,941.3 L695,941.3 Z" fill="#f8910e"/><path d="M695.0,895.0 C697.6,890.0 705.6,867.2 710.6,864.7 C715.6,862.2 720.0,873.4 725.0,880.0 C730.0,886.6 735.3,902.7 740.3,904.4 C745.3,906.1 750.3,894.4 755.0,890.0 C759.7,885.6 764.2,878.1 768.4,877.8 C772.6,877.5 775.6,881.2 780.0,888.0 C784.4,894.8 790.8,915.6 795.0,918.4 C799.2,921.2 801.4,909.9 805.0,905.0 C808.6,900.1 811.5,897.6 816.9,888.8 C822.3,879.9 830.4,855.0 837.2,851.9 C844.0,848.8 851.7,865.3 857.5,870.0 C863.3,874.7 866.8,876.4 872.0,880.0 C877.2,883.6 884.1,891.2 888.8,891.9 C893.4,892.6 895.8,887.1 900.0,884.0 C904.2,880.9 908.6,876.5 913.8,873.0 C918.9,869.5 925.8,862.5 931.0,862.8 C936.2,863.1 940.5,875.2 945.0,874.7 C949.5,874.2 953.8,863.5 958.0,860.0 C962.2,856.5 968.0,854.8 970.0,853.8" fill="none" stroke="#e07c10" stroke-width="0.8"/><defs><linearGradient id="m10" x1="0" y1="0" x2="0" y2="1"><stop offset="0" stop-color="#f47220"/><stop offset="1" stop-color="#e85a18"/></linearGradient></defs><path d="M695.0,918.4 C698.1,916.6 705.9,907.8 713.8,907.5 C721.6,907.2 733.0,917.7 741.9,916.9 C750.8,916.1 757.8,901.8 766.9,902.8 C776.0,903.8 788.6,922.5 796.6,923.0 C804.6,923.5 808.0,912.8 815.0,906.0 C822.0,899.2 832.1,884.5 838.8,882.5 C845.4,880.5 849.3,890.4 855.0,894.0 C860.7,897.6 867.4,901.2 873.0,904.0 C878.6,906.8 882.6,910.8 888.8,910.6 C894.9,910.4 903.2,905.6 910.0,903.0 C916.8,900.4 922.6,894.2 929.4,895.0 C936.2,895.8 944.2,906.7 951.0,907.5 C957.8,908.3 966.8,901.0 970.0,899.7 L970,941.3 L695,941.3 Z" fill="url(#m10)"/></svg><div class="t" style="left:682px;top:814.5px;font-size:4.4px;color:#34384c;font-weight:normal;letter-spacing:-0.2px;">Pnn</div><div class="t" style="left:682px;top:827.0px;font-size:4.4px;color:#34384c;font-weight:normal;letter-spacing:-0.2px;">21n</div><div class="t" style="left:682px;top:840.45px;font-size:4.4px;color:#34384c;font-weight:normal;letter-spacing:-0.2px;">15l</div><div class="t" style="left:682px;top:854.2px;font-size:4.4px;color:#34384c;font-weight:normal;letter-spacing:-0.2px;">20l</div><div class="t" style="left:682px;top:868.6px;font-size:4.4px;color:#34384c;font-weight:normal;letter-spacing:-0.2px;">10l</div><div class="t" style="left:682px;top:882.6px;font-size:4.4px;color:#34384c;font-weight:normal;letter-spacing:-0.2px;">12l</div><div class="t" style="left:682px;top:896.7px;font-size:4.4px;color:#34384c;font-weight:normal;letter-spacing:-0.2px;">1nl</div><div class="t" style="left:682px;top:910.8000000000001px;font-size:4.4px;color:#34384c;font-weight:normal;letter-spacing:-0.2px;">1nl</div><div class="t" style="left:682px;top:924.8000000000001px;font-size:4.4px;color:#34384c;font-weight:normal;letter-spacing:-0.2px;">12l</div><div style="left:913px;top:816px;width:37.6px;height:15px;background:#fff;border:1px solid #dcdee6;border-radius:1.5px;"></div><div style="left:917px;top:821px;width:5.5px;height:4.5px;background:#e07a50;border-radius:1px;"></div><div class="t" style="left:925.5px;top:821.5px;font-size:3.8px;color:#303448;font-weight:normal;">Pnaa  Tn</div><div style="left:952.8px;top:816px;width:16.6px;height:15px;background:#fff;border:1px solid #dcdee6;border-radius:1.5px;"></div><div class="t" style="left:957px;top:819.5px;font-size:5px;color:#303448;font-weight:normal;">&#9650;</div><div style="left:687px;top:941.25px;width:283px;height:49px;background:#08082c;"></div><div class="t" style="left:706.6px;top:948.5px;font-size:3.6px;color:#9096c0;font-weight:normal;">Pnaa</div><div class="t" style="left:730px;top:948.5px;font-size:3.6px;color:#9096c0;font-weight:normal;">Dnaa</div><div class="t" style="left:756px;top:948.5px;font-size:3.6px;color:#9096c0;font-weight:normal;">Pnaa</div><div class="t" style="left:780px;top:948.5px;font-size:3.6px;color:#9096c0;font-weight:normal;">Pnaa</div><div class="t" style="left:805px;top:948.5px;font-size:3.6px;color:#9096c0;font-weight:normal;">Pnal</div><div class="t" style="left:829.4px;top:948.5px;font-size:3.6px;color:#9096c0;font-weight:normal;">Pnaa</div><div class="t" style="left:854.4px;top:948.5px;font-size:3.6px;color:#9096c0;font-weight:normal;">Paaa</div><div class="t" style="left:878.5px;top:948.5px;font-size:3.6px;color:#9096c0;font-weight:normal;">Pnaa</div><div class="t" style="left:902.9px;top:948.5px;font-size:3.6px;color:#9096c0;font-weight:normal;">Tnaa</div><div class="t" style="left:926.3px;top:948.5px;font-size:3.6px;color:#9096c0;font-weight:normal;">Pnaa</div><div class="t" style="left:951px;top:948.5px;font-size:3.6px;color:#9096c0;font-weight:normal;">Nnaa</div><div style="left:688.75px;top:960.6px;width:280px;height:0.7px;background:#22264e;"></div><div class="t" style="left:691.9px;top:966px;font-size:3.2px;color:#7a80a8;font-weight:normal;">Dnaaaaaaaaa</div><div class="t" style="left:691.9px;top:971.5px;font-size:3.2px;color:#7a80a8;font-weight:normal;">Daaaaaa</div><div class="t" style="left:693px;top:979.5px;font-size:3.2px;color:#7a80a8;font-weight:normal;">x</div><div class="t" style="left:724.7px;top:966px;font-size:3.2px;color:#7a80a8;font-weight:normal;">Nn</div><div class="t" style="left:724.7px;top:971.5px;font-size:3.2px;color:#7a80a8;font-weight:normal;">Tnaa</div><div class="t" style="left:725.7px;top:979.5px;font-size:3.2px;color:#7a80a8;font-weight:normal;">l</div><div class="t" style="left:746.6px;top:966px;font-size:3.2px;color:#7a80a8;font-weight:normal;">Nn</div><div class="t" style="left:746.6px;top:971.5px;font-size:3.2px;color:#7a80a8;font-weight:normal;">Tnaa</div><div class="t" style="left:747.6px;top:979.5px;font-size:3.2px;color:#7a80a8;font-weight:normal;">l</div><div class="t" style="left:769.4px;top:966px;font-size:3.2px;color:#7a80a8;font-weight:normal;">Nn</div><div class="t" style="left:769.4px;top:971.5px;font-size:3.2px;color:#7a80a8;font-weight:normal;">Tnaa</div><div class="t" style="left:770.4px;top:979.5px;font-size:3.2px;color:#7a80a8;font-weight:normal;">l</div><div class="t" style="left:793.4px;top:966px;font-size:3.2px;color:#7a80a8;font-weight:normal;">Nn</div><div class="t" style="left:793.4px;top:971.5px;font-size:3.2px;color:#7a80a8;font-weight:normal;">Tnaa</div><div class="t" style="left:794.4px;top:979.5px;font-size:3.2px;color:#7a80a8;font-weight:normal;">l</div><div class="t" style="left:814.4px;top:966px;font-size:3.2px;color:#7a80a8;font-weight:normal;">Nn</div><div class="t" style="left:814.4px;top:971.5px;font-size:3.2px;color:#7a80a8;font-weight:normal;">Tnaa</div><div class="t" style="left:815.4px;top:979.5px;font-size:3.2px;color:#7a80a8;font-weight:normal;">l</div><div style="left:841.9px;top:963px;width:0.7px;height:25px;background:#22264e;"></div><div class="t" style="left:856px;top:971px;font-size:3.4px;color:#8a90b8;font-weight:normal;">Nnaaa</div><div style="left:878.75px;top:963px;width:0.7px;height:25px;background:#22264e;"></div><div class="t" style="left:888.75px;top:970px;font-size:3.4px;color:#8a90b8;font-weight:normal;">Tnaa</div><div class="t" style="left:912px;top:970px;font-size:3.4px;color:#8a90b8;font-weight:normal;">Nnaaaaaa</div><div class="t" style="left:892px;top:978.5px;font-size:3.4px;color:#8a90b8;font-weight:normal;">Pnaa</div><div class="t" style="left:918px;top:978.5px;font-size:3.4px;color:#8a90b8;font-weight:normal;">Pnaaaa</div><div style="left:943.4px;top:965.5px;width:9.4px;height:3px;background:#c89a40;"></div><div class="t" style="left:956px;top:965.5px;font-size:3.4px;color:#c8cce8;font-weight:normal;">Pnaa</div><div style="left:943.4px;top:973.5px;width:9.4px;height:1px;background:#a08040;"></div><div class="t" style="left:956px;top:977.5px;font-size:3.4px;color:#8a90b8;font-weight:normal;">Tnaa</div>
</body></html>
